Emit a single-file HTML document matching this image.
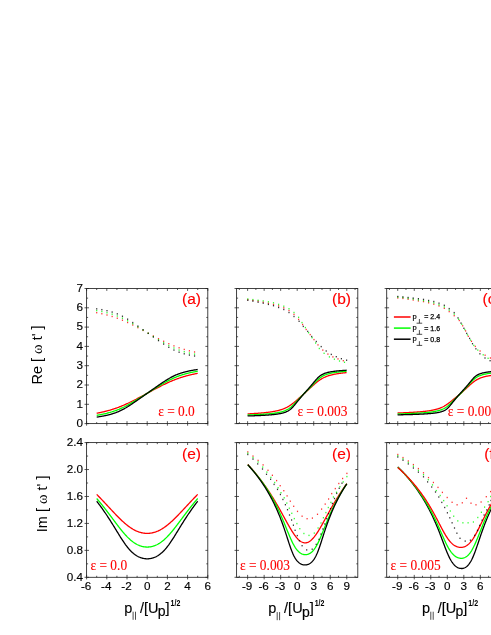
<!DOCTYPE html>
<html><head><meta charset="utf-8"><title>figure</title>
<style>
html,body{margin:0;padding:0;background:#fff;}
body{width:491px;height:635px;overflow:hidden;font-family:"Liberation Sans",sans-serif;}
svg text{white-space:pre;}
svg{will-change:transform;}
</style></head><body>
<svg width="491" height="635" viewBox="0 0 491 635" style="display:block">
<rect x="0" y="0" width="491" height="635" fill="#ffffff"/>
<g id="data">
<path d="M96.7 413.24 L97.2 413.14 L97.71 413.05 L98.22 412.95 L98.72 412.85 L99.22 412.74 L99.73 412.64 L100.23 412.54 L100.74 412.43 L101.25 412.32 L101.75 412.21 L102.25 412.1 L102.76 411.98 L103.27 411.86 L103.77 411.75 L104.27 411.62 L104.78 411.5 L105.28 411.38 L105.79 411.25 L106.3 411.12 L106.8 410.99 L107.3 410.86 L107.81 410.72 L108.31 410.58 L108.82 410.44 L109.32 410.3 L109.83 410.16 L110.33 410.01 L110.84 409.86 L111.34 409.71 L111.85 409.55 L112.35 409.39 L112.86 409.23 L113.36 409.07 L113.87 408.91 L114.38 408.74 L114.88 408.57 L115.38 408.4 L115.89 408.22 L116.39 408.04 L116.9 407.86 L117.41 407.68 L117.91 407.49 L118.41 407.31 L118.92 407.11 L119.42 406.92 L119.93 406.72 L120.44 406.52 L120.94 406.32 L121.44 406.12 L121.95 405.91 L122.45 405.7 L122.96 405.49 L123.47 405.27 L123.97 405.06 L124.47 404.84 L124.98 404.61 L125.48 404.39 L125.99 404.16 L126.5 403.93 L127 403.7 L127.5 403.47 L128.01 403.23 L128.51 403 L129.02 402.76 L129.53 402.52 L130.03 402.27 L130.53 402.03 L131.04 401.78 L131.54 401.53 L132.05 401.28 L132.56 401.03 L133.06 400.78 L133.56 400.52 L134.07 400.26 L134.57 400.01 L135.08 399.75 L135.58 399.49 L136.09 399.23 L136.59 398.96 L137.1 398.7 L137.6 398.43 L138.11 398.17 L138.62 397.9 L139.12 397.63 L139.62 397.37 L140.13 397.1 L140.63 396.83 L141.14 396.56 L141.65 396.29 L142.15 396.02 L142.66 395.74 L143.16 395.47 L143.66 395.2 L144.17 394.93 L144.67 394.65 L145.18 394.38 L145.69 394.11 L146.19 393.83 L146.69 393.56 L147.2 393.28 L147.71 393.01 L148.21 392.74 L148.72 392.46 L149.22 392.19 L149.72 391.91 L150.23 391.64 L150.74 391.37 L151.24 391.1 L151.75 390.82 L152.25 390.55 L152.75 390.28 L153.26 390.01 L153.76 389.74 L154.27 389.47 L154.77 389.2 L155.28 388.93 L155.78 388.67 L156.29 388.4 L156.8 388.13 L157.3 387.87 L157.81 387.6 L158.31 387.34 L158.81 387.08 L159.32 386.82 L159.82 386.56 L160.33 386.3 L160.83 386.05 L161.34 385.79 L161.84 385.54 L162.35 385.29 L162.86 385.04 L163.36 384.79 L163.87 384.54 L164.37 384.29 L164.88 384.05 L165.38 383.81 L165.88 383.57 L166.39 383.33 L166.89 383.1 L167.4 382.86 L167.91 382.63 L168.41 382.4 L168.92 382.18 L169.42 381.95 L169.93 381.73 L170.43 381.51 L170.94 381.29 L171.44 381.08 L171.94 380.87 L172.45 380.66 L172.96 380.45 L173.46 380.25 L173.97 380.04 L174.47 379.84 L174.97 379.65 L175.48 379.45 L175.99 379.26 L176.49 379.07 L177 378.89 L177.5 378.7 L178 378.52 L178.51 378.35 L179.01 378.17 L179.52 378 L180.03 377.83 L180.53 377.66 L181.03 377.49 L181.54 377.33 L182.05 377.17 L182.55 377.02 L183.06 376.86 L183.56 376.71 L184.06 376.56 L184.57 376.41 L185.07 376.27 L185.58 376.12 L186.08 375.98 L186.59 375.85 L187.09 375.71 L187.6 375.58 L188.11 375.45 L188.61 375.32 L189.12 375.19 L189.62 375.07 L190.12 374.94 L190.63 374.82 L191.13 374.7 L191.64 374.59 L192.15 374.47 L192.65 374.36 L193.16 374.25 L193.66 374.14 L194.16 374.03 L194.67 373.93 L195.18 373.82 L195.68 373.72 L196.19 373.62 L196.69 373.52 L197.19 373.42 L197.7 373.33" fill="none" stroke="#ff0000" stroke-width="1.3" stroke-linejoin="round"/>
<path d="M96.7 415.33 L97.2 415.25 L97.71 415.16 L98.22 415.07 L98.72 414.98 L99.22 414.89 L99.73 414.8 L100.23 414.7 L100.74 414.6 L101.25 414.5 L101.75 414.4 L102.25 414.3 L102.76 414.19 L103.27 414.08 L103.77 413.97 L104.27 413.86 L104.78 413.75 L105.28 413.63 L105.79 413.51 L106.3 413.39 L106.8 413.26 L107.3 413.13 L107.81 413 L108.31 412.87 L108.82 412.73 L109.32 412.59 L109.83 412.45 L110.33 412.3 L110.84 412.15 L111.34 412 L111.85 411.85 L112.35 411.69 L112.86 411.52 L113.36 411.36 L113.87 411.19 L114.38 411.01 L114.88 410.84 L115.38 410.66 L115.89 410.47 L116.39 410.28 L116.9 410.09 L117.41 409.9 L117.91 409.7 L118.41 409.49 L118.92 409.29 L119.42 409.07 L119.93 408.86 L120.44 408.64 L120.94 408.42 L121.44 408.19 L121.95 407.96 L122.45 407.72 L122.96 407.48 L123.47 407.24 L123.97 406.99 L124.47 406.74 L124.98 406.49 L125.48 406.23 L125.99 405.97 L126.5 405.71 L127 405.44 L127.5 405.17 L128.01 404.9 L128.51 404.62 L129.02 404.34 L129.53 404.06 L130.03 403.78 L130.53 403.49 L131.04 403.2 L131.54 402.91 L132.05 402.62 L132.56 402.32 L133.06 402.03 L133.56 401.73 L134.07 401.43 L134.57 401.12 L135.08 400.82 L135.58 400.52 L136.09 400.21 L136.59 399.9 L137.1 399.59 L137.6 399.28 L138.11 398.97 L138.62 398.66 L139.12 398.35 L139.62 398.03 L140.13 397.72 L140.63 397.41 L141.14 397.09 L141.65 396.78 L142.15 396.46 L142.66 396.14 L143.16 395.83 L143.66 395.51 L144.17 395.19 L144.67 394.87 L145.18 394.56 L145.69 394.24 L146.19 393.92 L146.69 393.6 L147.2 393.28 L147.71 392.97 L148.21 392.65 L148.72 392.33 L149.22 392.01 L149.72 391.69 L150.23 391.38 L150.74 391.06 L151.24 390.74 L151.75 390.42 L152.25 390.11 L152.75 389.79 L153.26 389.48 L153.76 389.16 L154.27 388.85 L154.77 388.53 L155.28 388.22 L155.78 387.91 L156.29 387.6 L156.8 387.28 L157.3 386.97 L157.81 386.67 L158.31 386.36 L158.81 386.05 L159.32 385.75 L159.82 385.44 L160.33 385.14 L160.83 384.84 L161.34 384.54 L161.84 384.24 L162.35 383.95 L162.86 383.66 L163.36 383.36 L163.87 383.08 L164.37 382.79 L164.88 382.51 L165.38 382.22 L165.88 381.95 L166.39 381.67 L166.89 381.4 L167.4 381.13 L167.91 380.86 L168.41 380.6 L168.92 380.33 L169.42 380.08 L169.93 379.82 L170.43 379.57 L170.94 379.33 L171.44 379.08 L171.94 378.85 L172.45 378.61 L172.96 378.38 L173.46 378.15 L173.97 377.93 L174.47 377.71 L174.97 377.49 L175.48 377.28 L175.99 377.07 L176.49 376.87 L177 376.67 L177.5 376.47 L178 376.28 L178.51 376.09 L179.01 375.91 L179.52 375.73 L180.03 375.55 L180.53 375.38 L181.03 375.21 L181.54 375.04 L182.05 374.88 L182.55 374.72 L183.06 374.57 L183.56 374.41 L184.06 374.27 L184.57 374.12 L185.07 373.98 L185.58 373.84 L186.08 373.7 L186.59 373.57 L187.09 373.44 L187.6 373.31 L188.11 373.18 L188.61 373.06 L189.12 372.94 L189.62 372.82 L190.12 372.71 L190.63 372.59 L191.13 372.48 L191.64 372.38 L192.15 372.27 L192.65 372.17 L193.16 372.06 L193.66 371.96 L194.16 371.87 L194.67 371.77 L195.18 371.68 L195.68 371.59 L196.19 371.5 L196.69 371.41 L197.19 371.32 L197.7 371.24" fill="none" stroke="#00ff00" stroke-width="1.3" stroke-linejoin="round"/>
<path d="M96.7 417.1 L97.2 417.03 L97.71 416.95 L98.22 416.88 L98.72 416.8 L99.22 416.72 L99.73 416.64 L100.23 416.56 L100.74 416.47 L101.25 416.39 L101.75 416.3 L102.25 416.21 L102.76 416.12 L103.27 416.02 L103.77 415.92 L104.27 415.82 L104.78 415.72 L105.28 415.62 L105.79 415.51 L106.3 415.4 L106.8 415.28 L107.3 415.17 L107.81 415.05 L108.31 414.92 L108.82 414.8 L109.32 414.67 L109.83 414.53 L110.33 414.4 L110.84 414.26 L111.34 414.11 L111.85 413.96 L112.35 413.81 L112.86 413.65 L113.36 413.49 L113.87 413.32 L114.38 413.15 L114.88 412.98 L115.38 412.79 L115.89 412.61 L116.39 412.42 L116.9 412.22 L117.41 412.02 L117.91 411.81 L118.41 411.6 L118.92 411.38 L119.42 411.15 L119.93 410.92 L120.44 410.69 L120.94 410.44 L121.44 410.2 L121.95 409.94 L122.45 409.68 L122.96 409.42 L123.47 409.15 L123.97 408.87 L124.47 408.59 L124.98 408.3 L125.48 408.01 L125.99 407.72 L126.5 407.41 L127 407.11 L127.5 406.8 L128.01 406.49 L128.51 406.17 L129.02 405.85 L129.53 405.52 L130.03 405.19 L130.53 404.86 L131.04 404.53 L131.54 404.19 L132.05 403.85 L132.56 403.51 L133.06 403.17 L133.56 402.83 L134.07 402.48 L134.57 402.14 L135.08 401.79 L135.58 401.44 L136.09 401.09 L136.59 400.74 L137.1 400.39 L137.6 400.03 L138.11 399.68 L138.62 399.33 L139.12 398.97 L139.62 398.62 L140.13 398.26 L140.63 397.91 L141.14 397.55 L141.65 397.2 L142.15 396.84 L142.66 396.49 L143.16 396.13 L143.66 395.77 L144.17 395.42 L144.67 395.06 L145.18 394.71 L145.69 394.35 L146.19 394 L146.69 393.64 L147.2 393.28 L147.71 392.93 L148.21 392.57 L148.72 392.22 L149.22 391.86 L149.72 391.5 L150.23 391.15 L150.74 390.79 L151.24 390.44 L151.75 390.08 L152.25 389.73 L152.75 389.37 L153.26 389.01 L153.76 388.66 L154.27 388.3 L154.77 387.95 L155.28 387.6 L155.78 387.24 L156.29 386.89 L156.8 386.53 L157.3 386.18 L157.81 385.83 L158.31 385.48 L158.81 385.13 L159.32 384.78 L159.82 384.43 L160.33 384.08 L160.83 383.74 L161.34 383.39 L161.84 383.05 L162.35 382.71 L162.86 382.37 L163.36 382.04 L163.87 381.7 L164.37 381.37 L164.88 381.05 L165.38 380.72 L165.88 380.4 L166.39 380.08 L166.89 379.77 L167.4 379.46 L167.91 379.15 L168.41 378.85 L168.92 378.56 L169.42 378.26 L169.93 377.98 L170.43 377.7 L170.94 377.42 L171.44 377.15 L171.94 376.88 L172.45 376.63 L172.96 376.37 L173.46 376.12 L173.97 375.88 L174.47 375.65 L174.97 375.42 L175.48 375.19 L175.99 374.97 L176.49 374.76 L177 374.55 L177.5 374.35 L178 374.15 L178.51 373.96 L179.01 373.77 L179.52 373.59 L180.03 373.42 L180.53 373.24 L181.03 373.08 L181.54 372.92 L182.05 372.76 L182.55 372.6 L183.06 372.46 L183.56 372.31 L184.06 372.17 L184.57 372.03 L185.07 371.9 L185.58 371.77 L186.08 371.64 L186.59 371.52 L187.09 371.4 L187.6 371.28 L188.11 371.17 L188.61 371.06 L189.12 370.95 L189.62 370.85 L190.12 370.74 L190.63 370.64 L191.13 370.55 L191.64 370.45 L192.15 370.36 L192.65 370.27 L193.16 370.18 L193.66 370.09 L194.16 370.01 L194.67 369.93 L195.18 369.85 L195.68 369.77 L196.19 369.69 L196.69 369.62 L197.19 369.54 L197.7 369.47" fill="none" stroke="#000000" stroke-width="1.3" stroke-linejoin="round"/>
<rect x="96.1" y="312" width="1.2" height="1.4" fill="#ff0000" fill-opacity="0.8"/>
<rect x="101.25" y="313.05" width="1.2" height="1.4" fill="#ff0000" fill-opacity="0.8"/>
<rect x="106.4" y="314.3" width="1.2" height="1.4" fill="#ff0000" fill-opacity="0.8"/>
<rect x="111.55" y="315.78" width="1.2" height="1.4" fill="#ff0000" fill-opacity="0.8"/>
<rect x="116.7" y="317.52" width="1.2" height="1.4" fill="#ff0000" fill-opacity="0.8"/>
<rect x="121.85" y="319.53" width="1.2" height="1.4" fill="#ff0000" fill-opacity="0.8"/>
<rect x="127" y="321.81" width="1.2" height="1.4" fill="#ff0000" fill-opacity="0.8"/>
<rect x="132.15" y="324.3" width="1.2" height="1.4" fill="#ff0000" fill-opacity="0.8"/>
<rect x="137.3" y="326.96" width="1.2" height="1.4" fill="#ff0000" fill-opacity="0.8"/>
<rect x="142.45" y="329.7" width="1.2" height="1.4" fill="#ff0000" fill-opacity="0.8"/>
<rect x="147.6" y="332.49" width="1.2" height="1.4" fill="#ff0000" fill-opacity="0.8"/>
<rect x="152.75" y="335.27" width="1.2" height="1.4" fill="#ff0000" fill-opacity="0.8"/>
<rect x="157.9" y="337.99" width="1.2" height="1.4" fill="#ff0000" fill-opacity="0.8"/>
<rect x="163.05" y="340.59" width="1.2" height="1.4" fill="#ff0000" fill-opacity="0.8"/>
<rect x="168.2" y="343.01" width="1.2" height="1.4" fill="#ff0000" fill-opacity="0.8"/>
<rect x="173.35" y="345.18" width="1.2" height="1.4" fill="#ff0000" fill-opacity="0.8"/>
<rect x="178.5" y="347.09" width="1.2" height="1.4" fill="#ff0000" fill-opacity="0.8"/>
<rect x="183.65" y="348.73" width="1.2" height="1.4" fill="#ff0000" fill-opacity="0.8"/>
<rect x="188.8" y="350.12" width="1.2" height="1.4" fill="#ff0000" fill-opacity="0.8"/>
<rect x="193.95" y="351.28" width="1.2" height="1.4" fill="#ff0000" fill-opacity="0.8"/>
<rect x="96.1" y="309.9" width="1.2" height="1.4" fill="#00ff00" fill-opacity="0.8"/>
<rect x="101.25" y="310.85" width="1.2" height="1.4" fill="#00ff00" fill-opacity="0.8"/>
<rect x="106.4" y="312.03" width="1.2" height="1.4" fill="#00ff00" fill-opacity="0.8"/>
<rect x="111.55" y="313.48" width="1.2" height="1.4" fill="#00ff00" fill-opacity="0.8"/>
<rect x="116.7" y="315.3" width="1.2" height="1.4" fill="#00ff00" fill-opacity="0.8"/>
<rect x="121.85" y="317.51" width="1.2" height="1.4" fill="#00ff00" fill-opacity="0.8"/>
<rect x="127" y="320.11" width="1.2" height="1.4" fill="#00ff00" fill-opacity="0.8"/>
<rect x="132.15" y="323.03" width="1.2" height="1.4" fill="#00ff00" fill-opacity="0.8"/>
<rect x="137.3" y="326.13" width="1.2" height="1.4" fill="#00ff00" fill-opacity="0.8"/>
<rect x="142.45" y="329.34" width="1.2" height="1.4" fill="#00ff00" fill-opacity="0.8"/>
<rect x="147.6" y="332.58" width="1.2" height="1.4" fill="#00ff00" fill-opacity="0.8"/>
<rect x="152.75" y="335.81" width="1.2" height="1.4" fill="#00ff00" fill-opacity="0.8"/>
<rect x="157.9" y="338.99" width="1.2" height="1.4" fill="#00ff00" fill-opacity="0.8"/>
<rect x="163.05" y="342.04" width="1.2" height="1.4" fill="#00ff00" fill-opacity="0.8"/>
<rect x="168.2" y="344.84" width="1.2" height="1.4" fill="#00ff00" fill-opacity="0.8"/>
<rect x="173.35" y="347.3" width="1.2" height="1.4" fill="#00ff00" fill-opacity="0.8"/>
<rect x="178.5" y="349.36" width="1.2" height="1.4" fill="#00ff00" fill-opacity="0.8"/>
<rect x="183.65" y="351.02" width="1.2" height="1.4" fill="#00ff00" fill-opacity="0.8"/>
<rect x="188.8" y="352.36" width="1.2" height="1.4" fill="#00ff00" fill-opacity="0.8"/>
<rect x="193.95" y="353.44" width="1.2" height="1.4" fill="#00ff00" fill-opacity="0.8"/>
<rect x="96.1" y="308.14" width="1.2" height="1.4" fill="#000000" fill-opacity="0.8"/>
<rect x="101.25" y="308.95" width="1.2" height="1.4" fill="#000000" fill-opacity="0.8"/>
<rect x="106.4" y="310" width="1.2" height="1.4" fill="#000000" fill-opacity="0.8"/>
<rect x="111.55" y="311.36" width="1.2" height="1.4" fill="#000000" fill-opacity="0.8"/>
<rect x="116.7" y="313.17" width="1.2" height="1.4" fill="#000000" fill-opacity="0.8"/>
<rect x="121.85" y="315.55" width="1.2" height="1.4" fill="#000000" fill-opacity="0.8"/>
<rect x="127" y="318.49" width="1.2" height="1.4" fill="#000000" fill-opacity="0.8"/>
<rect x="132.15" y="321.85" width="1.2" height="1.4" fill="#000000" fill-opacity="0.8"/>
<rect x="137.3" y="325.41" width="1.2" height="1.4" fill="#000000" fill-opacity="0.8"/>
<rect x="142.45" y="329.03" width="1.2" height="1.4" fill="#000000" fill-opacity="0.8"/>
<rect x="147.6" y="332.66" width="1.2" height="1.4" fill="#000000" fill-opacity="0.8"/>
<rect x="152.75" y="336.28" width="1.2" height="1.4" fill="#000000" fill-opacity="0.8"/>
<rect x="157.9" y="339.89" width="1.2" height="1.4" fill="#000000" fill-opacity="0.8"/>
<rect x="163.05" y="343.39" width="1.2" height="1.4" fill="#000000" fill-opacity="0.8"/>
<rect x="168.2" y="346.61" width="1.2" height="1.4" fill="#000000" fill-opacity="0.8"/>
<rect x="173.35" y="349.35" width="1.2" height="1.4" fill="#000000" fill-opacity="0.8"/>
<rect x="178.5" y="351.49" width="1.2" height="1.4" fill="#000000" fill-opacity="0.8"/>
<rect x="183.65" y="353.12" width="1.2" height="1.4" fill="#000000" fill-opacity="0.8"/>
<rect x="188.8" y="354.34" width="1.2" height="1.4" fill="#000000" fill-opacity="0.8"/>
<rect x="193.95" y="355.29" width="1.2" height="1.4" fill="#000000" fill-opacity="0.8"/>
<path d="M96.7 494.37 L97.2 494.88 L97.71 495.4 L98.22 495.92 L98.72 496.44 L99.22 496.96 L99.73 497.49 L100.23 498.02 L100.74 498.54 L101.25 499.08 L101.75 499.61 L102.25 500.14 L102.76 500.67 L103.27 501.21 L103.77 501.75 L104.27 502.29 L104.78 502.83 L105.28 503.37 L105.79 503.91 L106.3 504.45 L106.8 504.99 L107.3 505.53 L107.81 506.08 L108.31 506.62 L108.82 507.16 L109.32 507.71 L109.83 508.25 L110.33 508.79 L110.84 509.34 L111.34 509.88 L111.85 510.42 L112.35 510.96 L112.86 511.5 L113.36 512.03 L113.87 512.57 L114.38 513.1 L114.88 513.63 L115.38 514.16 L115.89 514.68 L116.39 515.2 L116.9 515.72 L117.41 516.24 L117.91 516.75 L118.41 517.26 L118.92 517.77 L119.42 518.27 L119.93 518.76 L120.44 519.25 L120.94 519.74 L121.44 520.22 L121.95 520.69 L122.45 521.16 L122.96 521.62 L123.47 522.08 L123.97 522.53 L124.47 522.97 L124.98 523.41 L125.48 523.83 L125.99 524.26 L126.5 524.67 L127 525.07 L127.5 525.47 L128.01 525.86 L128.51 526.24 L129.02 526.61 L129.53 526.97 L130.03 527.33 L130.53 527.67 L131.04 528.01 L131.54 528.33 L132.05 528.65 L132.56 528.96 L133.06 529.26 L133.56 529.54 L134.07 529.82 L134.57 530.09 L135.08 530.34 L135.58 530.59 L136.09 530.83 L136.59 531.06 L137.1 531.27 L137.6 531.48 L138.11 531.67 L138.62 531.86 L139.12 532.03 L139.62 532.2 L140.13 532.35 L140.63 532.49 L141.14 532.63 L141.65 532.75 L142.15 532.86 L142.66 532.96 L143.16 533.05 L143.66 533.13 L144.17 533.2 L144.67 533.26 L145.18 533.31 L145.69 533.34 L146.19 533.37 L146.69 533.39 L147.2 533.39 L147.71 533.39 L148.21 533.37 L148.72 533.34 L149.22 533.31 L149.72 533.26 L150.23 533.2 L150.74 533.13 L151.24 533.05 L151.75 532.96 L152.25 532.86 L152.75 532.75 L153.26 532.63 L153.76 532.49 L154.27 532.35 L154.77 532.2 L155.28 532.03 L155.78 531.86 L156.29 531.67 L156.8 531.48 L157.3 531.27 L157.81 531.06 L158.31 530.83 L158.81 530.59 L159.32 530.34 L159.82 530.09 L160.33 529.82 L160.83 529.54 L161.34 529.26 L161.84 528.96 L162.35 528.65 L162.86 528.33 L163.36 528.01 L163.87 527.67 L164.37 527.33 L164.88 526.97 L165.38 526.61 L165.88 526.24 L166.39 525.86 L166.89 525.47 L167.4 525.07 L167.91 524.67 L168.41 524.26 L168.92 523.83 L169.42 523.41 L169.93 522.97 L170.43 522.53 L170.94 522.08 L171.44 521.62 L171.94 521.16 L172.45 520.69 L172.96 520.22 L173.46 519.74 L173.97 519.25 L174.47 518.76 L174.97 518.27 L175.48 517.77 L175.99 517.26 L176.49 516.75 L177 516.24 L177.5 515.72 L178 515.2 L178.51 514.68 L179.01 514.16 L179.52 513.63 L180.03 513.1 L180.53 512.57 L181.03 512.03 L181.54 511.5 L182.05 510.96 L182.55 510.42 L183.06 509.88 L183.56 509.34 L184.06 508.79 L184.57 508.25 L185.07 507.71 L185.58 507.16 L186.08 506.62 L186.59 506.08 L187.09 505.53 L187.6 504.99 L188.11 504.45 L188.61 503.91 L189.12 503.37 L189.62 502.83 L190.12 502.29 L190.63 501.75 L191.13 501.21 L191.64 500.67 L192.15 500.14 L192.65 499.61 L193.16 499.08 L193.66 498.54 L194.16 498.02 L194.67 497.49 L195.18 496.96 L195.68 496.44 L196.19 495.92 L196.69 495.4 L197.19 494.88 L197.7 494.37" fill="none" stroke="#ff0000" stroke-width="1.3" stroke-linejoin="round"/>
<path d="M96.7 498.52 L97.2 499.11 L97.71 499.71 L98.22 500.3 L98.72 500.91 L99.22 501.51 L99.73 502.12 L100.23 502.73 L100.74 503.35 L101.25 503.97 L101.75 504.59 L102.25 505.22 L102.76 505.85 L103.27 506.48 L103.77 507.12 L104.27 507.76 L104.78 508.4 L105.28 509.05 L105.79 509.7 L106.3 510.35 L106.8 511.01 L107.3 511.67 L107.81 512.33 L108.31 512.99 L108.82 513.66 L109.32 514.32 L109.83 514.99 L110.33 515.66 L110.84 516.34 L111.34 517.01 L111.85 517.69 L112.35 518.36 L112.86 519.04 L113.36 519.71 L113.87 520.39 L114.38 521.06 L114.88 521.74 L115.38 522.41 L115.89 523.09 L116.39 523.76 L116.9 524.42 L117.41 525.09 L117.91 525.75 L118.41 526.41 L118.92 527.06 L119.42 527.71 L119.93 528.36 L120.44 529 L120.94 529.63 L121.44 530.26 L121.95 530.88 L122.45 531.49 L122.96 532.09 L123.47 532.69 L123.97 533.28 L124.47 533.86 L124.98 534.43 L125.48 534.99 L125.99 535.54 L126.5 536.07 L127 536.6 L127.5 537.12 L128.01 537.62 L128.51 538.11 L129.02 538.59 L129.53 539.06 L130.03 539.51 L130.53 539.96 L131.04 540.39 L131.54 540.8 L132.05 541.2 L132.56 541.59 L133.06 541.97 L133.56 542.33 L134.07 542.68 L134.57 543.01 L135.08 543.33 L135.58 543.64 L136.09 543.93 L136.59 544.21 L137.1 544.48 L137.6 544.73 L138.11 544.97 L138.62 545.2 L139.12 545.41 L139.62 545.61 L140.13 545.8 L140.63 545.97 L141.14 546.13 L141.65 546.28 L142.15 546.41 L142.66 546.53 L143.16 546.64 L143.66 546.74 L144.17 546.82 L144.67 546.89 L145.18 546.95 L145.69 546.99 L146.19 547.02 L146.69 547.04 L147.2 547.05 L147.71 547.04 L148.21 547.02 L148.72 546.99 L149.22 546.95 L149.72 546.89 L150.23 546.82 L150.74 546.74 L151.24 546.64 L151.75 546.53 L152.25 546.41 L152.75 546.28 L153.26 546.13 L153.76 545.97 L154.27 545.8 L154.77 545.61 L155.28 545.41 L155.78 545.2 L156.29 544.97 L156.8 544.73 L157.3 544.48 L157.81 544.21 L158.31 543.93 L158.81 543.64 L159.32 543.33 L159.82 543.01 L160.33 542.68 L160.83 542.33 L161.34 541.97 L161.84 541.59 L162.35 541.2 L162.86 540.8 L163.36 540.39 L163.87 539.96 L164.37 539.51 L164.88 539.06 L165.38 538.59 L165.88 538.11 L166.39 537.62 L166.89 537.12 L167.4 536.6 L167.91 536.07 L168.41 535.54 L168.92 534.99 L169.42 534.43 L169.93 533.86 L170.43 533.28 L170.94 532.69 L171.44 532.09 L171.94 531.49 L172.45 530.88 L172.96 530.26 L173.46 529.63 L173.97 529 L174.47 528.36 L174.97 527.71 L175.48 527.06 L175.99 526.41 L176.49 525.75 L177 525.09 L177.5 524.42 L178 523.76 L178.51 523.09 L179.01 522.41 L179.52 521.74 L180.03 521.06 L180.53 520.39 L181.03 519.71 L181.54 519.04 L182.05 518.36 L182.55 517.69 L183.06 517.01 L183.56 516.34 L184.06 515.66 L184.57 514.99 L185.07 514.32 L185.58 513.66 L186.08 512.99 L186.59 512.33 L187.09 511.67 L187.6 511.01 L188.11 510.35 L188.61 509.7 L189.12 509.05 L189.62 508.4 L190.12 507.76 L190.63 507.12 L191.13 506.48 L191.64 505.85 L192.15 505.22 L192.65 504.59 L193.16 503.97 L193.66 503.35 L194.16 502.73 L194.67 502.12 L195.18 501.51 L195.68 500.91 L196.19 500.3 L196.69 499.71 L197.19 499.11 L197.7 498.52" fill="none" stroke="#00ff00" stroke-width="1.3" stroke-linejoin="round"/>
<path d="M96.7 501.24 L97.2 501.89 L97.71 502.54 L98.22 503.2 L98.72 503.86 L99.22 504.53 L99.73 505.21 L100.23 505.89 L100.74 506.57 L101.25 507.26 L101.75 507.96 L102.25 508.66 L102.76 509.37 L103.27 510.09 L103.77 510.81 L104.27 511.54 L104.78 512.27 L105.28 513.01 L105.79 513.75 L106.3 514.5 L106.8 515.25 L107.3 516.01 L107.81 516.78 L108.31 517.55 L108.82 518.33 L109.32 519.11 L109.83 519.9 L110.33 520.69 L110.84 521.49 L111.34 522.29 L111.85 523.09 L112.35 523.9 L112.86 524.72 L113.36 525.53 L113.87 526.35 L114.38 527.18 L114.88 528 L115.38 528.82 L115.89 529.65 L116.39 530.48 L116.9 531.31 L117.41 532.13 L117.91 532.96 L118.41 533.78 L118.92 534.6 L119.42 535.41 L119.93 536.23 L120.44 537.03 L120.94 537.83 L121.44 538.62 L121.95 539.41 L122.45 540.18 L122.96 540.95 L123.47 541.7 L123.97 542.44 L124.47 543.18 L124.98 543.89 L125.48 544.6 L125.99 545.28 L126.5 545.96 L127 546.61 L127.5 547.25 L128.01 547.88 L128.51 548.48 L129.02 549.07 L129.53 549.64 L130.03 550.19 L130.53 550.73 L131.04 551.24 L131.54 551.74 L132.05 552.22 L132.56 552.68 L133.06 553.12 L133.56 553.54 L134.07 553.94 L134.57 554.33 L135.08 554.7 L135.58 555.05 L136.09 555.38 L136.59 555.7 L137.1 556 L137.6 556.28 L138.11 556.55 L138.62 556.8 L139.12 557.03 L139.62 557.25 L140.13 557.46 L140.63 557.64 L141.14 557.82 L141.65 557.98 L142.15 558.12 L142.66 558.25 L143.16 558.37 L143.66 558.47 L144.17 558.56 L144.67 558.63 L145.18 558.69 L145.69 558.74 L146.19 558.78 L146.69 558.8 L147.2 558.8 L147.71 558.8 L148.21 558.78 L148.72 558.74 L149.22 558.69 L149.72 558.63 L150.23 558.56 L150.74 558.47 L151.24 558.37 L151.75 558.25 L152.25 558.12 L152.75 557.98 L153.26 557.82 L153.76 557.64 L154.27 557.46 L154.77 557.25 L155.28 557.03 L155.78 556.8 L156.29 556.55 L156.8 556.28 L157.3 556 L157.81 555.7 L158.31 555.38 L158.81 555.05 L159.32 554.7 L159.82 554.33 L160.33 553.94 L160.83 553.54 L161.34 553.12 L161.84 552.68 L162.35 552.22 L162.86 551.74 L163.36 551.24 L163.87 550.73 L164.37 550.19 L164.88 549.64 L165.38 549.07 L165.88 548.48 L166.39 547.88 L166.89 547.25 L167.4 546.61 L167.91 545.96 L168.41 545.28 L168.92 544.6 L169.42 543.89 L169.93 543.18 L170.43 542.44 L170.94 541.7 L171.44 540.95 L171.94 540.18 L172.45 539.41 L172.96 538.62 L173.46 537.83 L173.97 537.03 L174.47 536.23 L174.97 535.41 L175.48 534.6 L175.99 533.78 L176.49 532.96 L177 532.13 L177.5 531.31 L178 530.48 L178.51 529.65 L179.01 528.82 L179.52 528 L180.03 527.18 L180.53 526.35 L181.03 525.53 L181.54 524.72 L182.05 523.9 L182.55 523.09 L183.06 522.29 L183.56 521.49 L184.06 520.69 L184.57 519.9 L185.07 519.11 L185.58 518.33 L186.08 517.55 L186.59 516.78 L187.09 516.01 L187.6 515.25 L188.11 514.5 L188.61 513.75 L189.12 513.01 L189.62 512.27 L190.12 511.54 L190.63 510.81 L191.13 510.09 L191.64 509.37 L192.15 508.66 L192.65 507.96 L193.16 507.26 L193.66 506.57 L194.16 505.89 L194.67 505.21 L195.18 504.53 L195.68 503.86 L196.19 503.2 L196.69 502.54 L197.19 501.89 L197.7 501.24" fill="none" stroke="#000000" stroke-width="1.3" stroke-linejoin="round"/>
<path d="M247.6 413.88 L248.1 413.85 L248.6 413.83 L249.1 413.8 L249.6 413.78 L250.1 413.75 L250.6 413.72 L251.1 413.7 L251.6 413.67 L252.1 413.64 L252.6 413.61 L253.1 413.58 L253.6 413.55 L254.1 413.52 L254.6 413.49 L255.1 413.45 L255.6 413.42 L256.1 413.39 L256.6 413.35 L257.1 413.32 L257.6 413.28 L258.1 413.24 L258.6 413.21 L259.1 413.17 L259.6 413.13 L260.1 413.09 L260.6 413.05 L261.1 413 L261.6 412.96 L262.1 412.92 L262.6 412.87 L263.1 412.82 L263.6 412.78 L264.1 412.73 L264.6 412.68 L265.1 412.62 L265.6 412.57 L266.1 412.52 L266.6 412.46 L267.1 412.4 L267.6 412.34 L268.1 412.28 L268.6 412.22 L269.1 412.15 L269.6 412.09 L270.1 412.02 L270.6 411.94 L271.1 411.87 L271.6 411.8 L272.1 411.72 L272.6 411.64 L273.1 411.55 L273.6 411.47 L274.1 411.38 L274.6 411.28 L275.1 411.19 L275.6 411.09 L276.1 410.98 L276.6 410.87 L277.1 410.76 L277.6 410.65 L278.1 410.53 L278.6 410.4 L279.1 410.27 L279.6 410.13 L280.1 409.99 L280.6 409.85 L281.1 409.69 L281.6 409.53 L282.1 409.36 L282.6 409.19 L283.1 409 L283.6 408.81 L284.1 408.61 L284.6 408.4 L285.1 408.19 L285.6 407.96 L286.1 407.72 L286.6 407.47 L287.1 407.21 L287.6 406.94 L288.1 406.66 L288.6 406.36 L289.1 406.06 L289.6 405.74 L290.1 405.41 L290.6 405.07 L291.1 404.72 L291.6 404.36 L292.1 403.99 L292.6 403.61 L293.1 403.22 L293.6 402.82 L294.1 402.42 L294.6 402 L295.1 401.59 L295.6 401.16 L296.1 400.74 L296.6 400.3 L297.1 399.87 L297.6 399.43 L298.1 398.99 L298.6 398.55 L299.1 398.1 L299.6 397.65 L300.1 397.21 L300.6 396.76 L301.1 396.31 L301.6 395.86 L302.1 395.41 L302.6 394.96 L303.1 394.51 L303.6 394.06 L304.1 393.61 L304.6 393.16 L305.1 392.7 L305.6 392.24 L306.1 391.78 L306.6 391.32 L307.1 390.86 L307.6 390.39 L308.1 389.93 L308.6 389.47 L309.1 389.01 L309.6 388.55 L310.1 388.09 L310.6 387.63 L311.1 387.18 L311.6 386.72 L312.1 386.27 L312.6 385.82 L313.1 385.37 L313.6 384.92 L314.1 384.48 L314.6 384.05 L315.1 383.62 L315.6 383.19 L316.1 382.78 L316.6 382.37 L317.1 381.96 L317.6 381.57 L318.1 381.19 L318.6 380.82 L319.1 380.46 L319.6 380.11 L320.1 379.77 L320.6 379.44 L321.1 379.13 L321.6 378.83 L322.1 378.54 L322.6 378.26 L323.1 377.99 L323.6 377.74 L324.1 377.49 L324.6 377.26 L325.1 377.04 L325.6 376.82 L326.1 376.62 L326.6 376.43 L327.1 376.24 L327.6 376.06 L328.1 375.89 L328.6 375.73 L329.1 375.57 L329.6 375.42 L330.1 375.28 L330.6 375.14 L331.1 375.01 L331.6 374.89 L332.1 374.76 L332.6 374.65 L333.1 374.54 L333.6 374.43 L334.1 374.32 L334.6 374.22 L335.1 374.13 L335.6 374.03 L336.1 373.94 L336.6 373.86 L337.1 373.77 L337.6 373.69 L338.1 373.61 L338.6 373.54 L339.1 373.46 L339.6 373.39 L340.1 373.32 L340.6 373.26 L341.1 373.19 L341.6 373.13 L342.1 373.07 L342.6 373.01 L343.1 372.95 L343.6 372.89 L344.1 372.84 L344.6 372.79 L345.1 372.73 L345.6 372.68 L346.1 372.63 L346.6 372.59" fill="none" stroke="#ff0000" stroke-width="1.3" stroke-linejoin="round"/>
<path d="M247.6 415 L248.1 414.99 L248.6 414.97 L249.1 414.95 L249.6 414.93 L250.1 414.92 L250.6 414.9 L251.1 414.88 L251.6 414.86 L252.1 414.84 L252.6 414.82 L253.1 414.8 L253.6 414.78 L254.1 414.76 L254.6 414.73 L255.1 414.71 L255.6 414.69 L256.1 414.66 L256.6 414.64 L257.1 414.62 L257.6 414.59 L258.1 414.56 L258.6 414.54 L259.1 414.51 L259.6 414.48 L260.1 414.46 L260.6 414.43 L261.1 414.4 L261.6 414.37 L262.1 414.33 L262.6 414.3 L263.1 414.27 L263.6 414.24 L264.1 414.2 L264.6 414.17 L265.1 414.13 L265.6 414.09 L266.1 414.05 L266.6 414.01 L267.1 413.97 L267.6 413.93 L268.1 413.88 L268.6 413.84 L269.1 413.79 L269.6 413.74 L270.1 413.69 L270.6 413.64 L271.1 413.59 L271.6 413.53 L272.1 413.48 L272.6 413.42 L273.1 413.36 L273.6 413.29 L274.1 413.23 L274.6 413.16 L275.1 413.08 L275.6 413.01 L276.1 412.93 L276.6 412.85 L277.1 412.77 L277.6 412.68 L278.1 412.59 L278.6 412.49 L279.1 412.39 L279.6 412.28 L280.1 412.17 L280.6 412.05 L281.1 411.92 L281.6 411.79 L282.1 411.66 L282.6 411.51 L283.1 411.35 L283.6 411.19 L284.1 411.01 L284.6 410.83 L285.1 410.63 L285.6 410.42 L286.1 410.2 L286.6 409.96 L287.1 409.7 L287.6 409.43 L288.1 409.14 L288.6 408.83 L289.1 408.5 L289.6 408.15 L290.1 407.78 L290.6 407.39 L291.1 406.98 L291.6 406.55 L292.1 406.1 L292.6 405.63 L293.1 405.15 L293.6 404.65 L294.1 404.15 L294.6 403.63 L295.1 403.11 L295.6 402.58 L296.1 402.04 L296.6 401.51 L297.1 400.97 L297.6 400.44 L298.1 399.9 L298.6 399.36 L299.1 398.83 L299.6 398.29 L300.1 397.76 L300.6 397.23 L301.1 396.7 L301.6 396.17 L302.1 395.64 L302.6 395.11 L303.1 394.59 L303.6 394.06 L304.1 393.54 L304.6 393.01 L305.1 392.5 L305.6 392 L306.1 391.5 L306.6 390.99 L307.1 390.49 L307.6 389.99 L308.1 389.48 L308.6 388.98 L309.1 388.47 L309.6 387.96 L310.1 387.45 L310.6 386.94 L311.1 386.43 L311.6 385.92 L312.1 385.41 L312.6 384.89 L313.1 384.38 L313.6 383.86 L314.1 383.35 L314.6 382.84 L315.1 382.34 L315.6 381.84 L316.1 381.34 L316.6 380.85 L317.1 380.38 L317.6 379.91 L318.1 379.46 L318.6 379.02 L319.1 378.6 L319.6 378.2 L320.1 377.82 L320.6 377.45 L321.1 377.11 L321.6 376.78 L322.1 376.47 L322.6 376.18 L323.1 375.91 L323.6 375.65 L324.1 375.41 L324.6 375.18 L325.1 374.97 L325.6 374.77 L326.1 374.58 L326.6 374.4 L327.1 374.23 L327.6 374.07 L328.1 373.92 L328.6 373.78 L329.1 373.65 L329.6 373.52 L330.1 373.4 L330.6 373.28 L331.1 373.17 L331.6 373.07 L332.1 372.97 L332.6 372.87 L333.1 372.78 L333.6 372.69 L334.1 372.61 L334.6 372.53 L335.1 372.45 L335.6 372.38 L336.1 372.31 L336.6 372.24 L337.1 372.17 L337.6 372.11 L338.1 372.05 L338.6 371.99 L339.1 371.93 L339.6 371.88 L340.1 371.83 L340.6 371.77 L341.1 371.72 L341.6 371.68 L342.1 371.63 L342.6 371.58 L343.1 371.54 L343.6 371.5 L344.1 371.46 L344.6 371.42 L345.1 371.38 L345.6 371.34 L346.1 371.3 L346.6 371.27" fill="none" stroke="#00ff00" stroke-width="1.3" stroke-linejoin="round"/>
<path d="M247.6 415.96 L248.1 415.95 L248.6 415.94 L249.1 415.92 L249.6 415.91 L250.1 415.89 L250.6 415.88 L251.1 415.86 L251.6 415.85 L252.1 415.83 L252.6 415.81 L253.1 415.8 L253.6 415.78 L254.1 415.76 L254.6 415.74 L255.1 415.72 L255.6 415.71 L256.1 415.69 L256.6 415.67 L257.1 415.65 L257.6 415.63 L258.1 415.6 L258.6 415.58 L259.1 415.56 L259.6 415.54 L260.1 415.52 L260.6 415.49 L261.1 415.47 L261.6 415.44 L262.1 415.42 L262.6 415.39 L263.1 415.36 L263.6 415.34 L264.1 415.31 L264.6 415.28 L265.1 415.25 L265.6 415.22 L266.1 415.19 L266.6 415.15 L267.1 415.12 L267.6 415.08 L268.1 415.05 L268.6 415.01 L269.1 414.97 L269.6 414.93 L270.1 414.89 L270.6 414.85 L271.1 414.81 L271.6 414.76 L272.1 414.71 L272.6 414.66 L273.1 414.61 L273.6 414.56 L274.1 414.51 L274.6 414.45 L275.1 414.39 L275.6 414.33 L276.1 414.26 L276.6 414.2 L277.1 414.13 L277.6 414.05 L278.1 413.98 L278.6 413.9 L279.1 413.81 L279.6 413.72 L280.1 413.63 L280.6 413.53 L281.1 413.42 L281.6 413.31 L282.1 413.19 L282.6 413.07 L283.1 412.94 L283.6 412.79 L284.1 412.64 L284.6 412.48 L285.1 412.31 L285.6 412.12 L286.1 411.92 L286.6 411.7 L287.1 411.47 L287.6 411.22 L288.1 410.94 L288.6 410.64 L289.1 410.32 L289.6 409.97 L290.1 409.59 L290.6 409.18 L291.1 408.74 L291.6 408.28 L292.1 407.78 L292.6 407.26 L293.1 406.71 L293.6 406.14 L294.1 405.56 L294.6 404.96 L295.1 404.36 L295.6 403.75 L296.1 403.13 L296.6 402.52 L297.1 401.91 L297.6 401.29 L298.1 400.68 L298.6 400.08 L299.1 399.48 L299.6 398.88 L300.1 398.28 L300.6 397.69 L301.1 397.1 L301.6 396.51 L302.1 395.93 L302.6 395.34 L303.1 394.76 L303.6 394.19 L304.1 393.61 L304.6 393.03 L305.1 392.46 L305.6 391.9 L306.1 391.34 L306.6 390.77 L307.1 390.21 L307.6 389.64 L308.1 389.07 L308.6 388.5 L309.1 387.93 L309.6 387.35 L310.1 386.77 L310.6 386.19 L311.1 385.6 L311.6 385.01 L312.1 384.42 L312.6 383.83 L313.1 383.23 L313.6 382.63 L314.1 382.03 L314.6 381.44 L315.1 380.85 L315.6 380.26 L316.1 379.69 L316.6 379.13 L317.1 378.59 L317.6 378.06 L318.1 377.56 L318.6 377.09 L319.1 376.64 L319.6 376.23 L320.1 375.84 L320.6 375.48 L321.1 375.15 L321.6 374.84 L322.1 374.55 L322.6 374.29 L323.1 374.05 L323.6 373.82 L324.1 373.61 L324.6 373.42 L325.1 373.23 L325.6 373.07 L326.1 372.91 L326.6 372.76 L327.1 372.62 L327.6 372.49 L328.1 372.37 L328.6 372.25 L329.1 372.14 L329.6 372.04 L330.1 371.94 L330.6 371.85 L331.1 371.76 L331.6 371.68 L332.1 371.6 L332.6 371.52 L333.1 371.45 L333.6 371.38 L334.1 371.31 L334.6 371.25 L335.1 371.19 L335.6 371.13 L336.1 371.07 L336.6 371.02 L337.1 370.97 L337.6 370.92 L338.1 370.87 L338.6 370.82 L339.1 370.77 L339.6 370.73 L340.1 370.69 L340.6 370.65 L341.1 370.61 L341.6 370.57 L342.1 370.53 L342.6 370.5 L343.1 370.46 L343.6 370.43 L344.1 370.39 L344.6 370.36 L345.1 370.33 L345.6 370.3 L346.1 370.27 L346.6 370.24" fill="none" stroke="#000000" stroke-width="1.3" stroke-linejoin="round"/>
<rect x="247.2" y="298.9" width="1.2" height="1.4" fill="#ff0000" fill-opacity="0.8"/>
<rect x="252.3" y="299.7" width="1.2" height="1.4" fill="#ff0000" fill-opacity="0.8"/>
<rect x="257.5" y="300.4" width="1.2" height="1.4" fill="#ff0000" fill-opacity="0.8"/>
<rect x="262.6" y="301.5" width="1.2" height="1.4" fill="#ff0000" fill-opacity="0.8"/>
<rect x="267.8" y="302.5" width="1.2" height="1.4" fill="#ff0000" fill-opacity="0.8"/>
<rect x="272.9" y="303.7" width="1.2" height="1.4" fill="#ff0000" fill-opacity="0.8"/>
<rect x="278" y="305.2" width="1.2" height="1.4" fill="#ff0000" fill-opacity="0.8"/>
<rect x="283.2" y="307.1" width="1.2" height="1.4" fill="#ff0000" fill-opacity="0.8"/>
<rect x="288.4" y="309.8" width="1.2" height="1.4" fill="#ff0000" fill-opacity="0.8"/>
<rect x="293.4" y="313.7" width="1.2" height="1.4" fill="#ff0000" fill-opacity="0.8"/>
<rect x="298" y="318.7" width="1.2" height="1.4" fill="#ff0000" fill-opacity="0.8"/>
<rect x="302" y="323.8" width="1.2" height="1.4" fill="#ff0000" fill-opacity="0.8"/>
<rect x="305.6" y="328.8" width="1.2" height="1.4" fill="#ff0000" fill-opacity="0.8"/>
<rect x="309.6" y="333.9" width="1.2" height="1.4" fill="#ff0000" fill-opacity="0.8"/>
<rect x="313.4" y="338.9" width="1.2" height="1.4" fill="#ff0000" fill-opacity="0.8"/>
<rect x="317.4" y="344.2" width="1.2" height="1.4" fill="#ff0000" fill-opacity="0.8"/>
<rect x="322.2" y="349.4" width="1.2" height="1.4" fill="#ff0000" fill-opacity="0.8"/>
<rect x="327.3" y="353.4" width="1.2" height="1.4" fill="#ff0000" fill-opacity="0.8"/>
<rect x="332.3" y="356.2" width="1.2" height="1.4" fill="#ff0000" fill-opacity="0.8"/>
<rect x="337.4" y="358.2" width="1.2" height="1.4" fill="#ff0000" fill-opacity="0.8"/>
<rect x="342.7" y="360" width="1.2" height="1.4" fill="#ff0000" fill-opacity="0.8"/>
<rect x="247.2" y="298.3" width="1.2" height="1.4" fill="#00ff00" fill-opacity="0.8"/>
<rect x="252.3" y="298.9" width="1.2" height="1.4" fill="#00ff00" fill-opacity="0.8"/>
<rect x="257.5" y="299.6" width="1.2" height="1.4" fill="#00ff00" fill-opacity="0.8"/>
<rect x="262.6" y="300.2" width="1.2" height="1.4" fill="#00ff00" fill-opacity="0.8"/>
<rect x="267.8" y="301.1" width="1.2" height="1.4" fill="#00ff00" fill-opacity="0.8"/>
<rect x="272.9" y="302.1" width="1.2" height="1.4" fill="#00ff00" fill-opacity="0.8"/>
<rect x="278" y="303.7" width="1.2" height="1.4" fill="#00ff00" fill-opacity="0.8"/>
<rect x="283.2" y="305.5" width="1.2" height="1.4" fill="#00ff00" fill-opacity="0.8"/>
<rect x="288.4" y="308" width="1.2" height="1.4" fill="#00ff00" fill-opacity="0.8"/>
<rect x="293.4" y="311.8" width="1.2" height="1.4" fill="#00ff00" fill-opacity="0.8"/>
<rect x="298" y="316.6" width="1.2" height="1.4" fill="#00ff00" fill-opacity="0.8"/>
<rect x="301.4" y="321.9" width="1.2" height="1.4" fill="#00ff00" fill-opacity="0.8"/>
<rect x="304.8" y="326.9" width="1.2" height="1.4" fill="#00ff00" fill-opacity="0.8"/>
<rect x="308" y="332" width="1.2" height="1.4" fill="#00ff00" fill-opacity="0.8"/>
<rect x="311.5" y="337" width="1.2" height="1.4" fill="#00ff00" fill-opacity="0.8"/>
<rect x="315" y="342.3" width="1.2" height="1.4" fill="#00ff00" fill-opacity="0.8"/>
<rect x="318.7" y="347.8" width="1.2" height="1.4" fill="#00ff00" fill-opacity="0.8"/>
<rect x="323.5" y="352.6" width="1.2" height="1.4" fill="#00ff00" fill-opacity="0.8"/>
<rect x="328.8" y="356.2" width="1.2" height="1.4" fill="#00ff00" fill-opacity="0.8"/>
<rect x="333.8" y="358.5" width="1.2" height="1.4" fill="#00ff00" fill-opacity="0.8"/>
<rect x="338.9" y="360.3" width="1.2" height="1.4" fill="#00ff00" fill-opacity="0.8"/>
<rect x="343.9" y="361.6" width="1.2" height="1.4" fill="#00ff00" fill-opacity="0.8"/>
<rect x="247.2" y="299.6" width="1.2" height="1.4" fill="#000000" fill-opacity="0.8"/>
<rect x="252.3" y="300.4" width="1.2" height="1.4" fill="#000000" fill-opacity="0.8"/>
<rect x="257.5" y="301.5" width="1.2" height="1.4" fill="#000000" fill-opacity="0.8"/>
<rect x="262.6" y="302.5" width="1.2" height="1.4" fill="#000000" fill-opacity="0.8"/>
<rect x="267.8" y="303.7" width="1.2" height="1.4" fill="#000000" fill-opacity="0.8"/>
<rect x="272.9" y="305" width="1.2" height="1.4" fill="#000000" fill-opacity="0.8"/>
<rect x="278" y="306.8" width="1.2" height="1.4" fill="#000000" fill-opacity="0.8"/>
<rect x="283.2" y="308.8" width="1.2" height="1.4" fill="#000000" fill-opacity="0.8"/>
<rect x="288.4" y="311.8" width="1.2" height="1.4" fill="#000000" fill-opacity="0.8"/>
<rect x="293.4" y="315.8" width="1.2" height="1.4" fill="#000000" fill-opacity="0.8"/>
<rect x="298.5" y="320.6" width="1.2" height="1.4" fill="#000000" fill-opacity="0.8"/>
<rect x="302.7" y="325.7" width="1.2" height="1.4" fill="#000000" fill-opacity="0.8"/>
<rect x="307.1" y="330.7" width="1.2" height="1.4" fill="#000000" fill-opacity="0.8"/>
<rect x="311.1" y="335.8" width="1.2" height="1.4" fill="#000000" fill-opacity="0.8"/>
<rect x="315.7" y="340.8" width="1.2" height="1.4" fill="#000000" fill-opacity="0.8"/>
<rect x="320.6" y="345.9" width="1.2" height="1.4" fill="#000000" fill-opacity="0.8"/>
<rect x="325.6" y="350.3" width="1.2" height="1.4" fill="#000000" fill-opacity="0.8"/>
<rect x="330.7" y="353.7" width="1.2" height="1.4" fill="#000000" fill-opacity="0.8"/>
<rect x="335.7" y="356" width="1.2" height="1.4" fill="#000000" fill-opacity="0.8"/>
<rect x="340.8" y="358" width="1.2" height="1.4" fill="#000000" fill-opacity="0.8"/>
<rect x="346" y="359.5" width="1.2" height="1.4" fill="#000000" fill-opacity="0.8"/>
<path d="M397.6 412.98 L398.1 412.96 L398.6 412.95 L399.1 412.93 L399.6 412.91 L400.1 412.89 L400.6 412.88 L401.1 412.86 L401.6 412.84 L402.1 412.82 L402.6 412.8 L403.1 412.78 L403.6 412.76 L404.1 412.74 L404.6 412.72 L405.1 412.7 L405.6 412.67 L406.1 412.65 L406.6 412.63 L407.1 412.61 L407.6 412.58 L408.1 412.56 L408.6 412.53 L409.1 412.51 L409.6 412.48 L410.1 412.46 L410.6 412.43 L411.1 412.4 L411.6 412.38 L412.1 412.35 L412.6 412.32 L413.1 412.29 L413.6 412.26 L414.1 412.23 L414.6 412.19 L415.1 412.16 L415.6 412.13 L416.1 412.09 L416.6 412.06 L417.1 412.02 L417.6 411.99 L418.1 411.95 L418.6 411.91 L419.1 411.87 L419.6 411.83 L420.1 411.79 L420.6 411.74 L421.1 411.7 L421.6 411.65 L422.1 411.6 L422.6 411.56 L423.1 411.51 L423.6 411.45 L424.1 411.4 L424.6 411.35 L425.1 411.29 L425.6 411.23 L426.1 411.17 L426.6 411.11 L427.1 411.05 L427.6 410.98 L428.1 410.91 L428.6 410.84 L429.1 410.77 L429.6 410.69 L430.1 410.61 L430.6 410.53 L431.1 410.44 L431.6 410.35 L432.1 410.26 L432.6 410.17 L433.1 410.07 L433.6 409.96 L434.1 409.85 L434.6 409.74 L435.1 409.62 L435.6 409.5 L436.1 409.37 L436.6 409.23 L437.1 409.09 L437.6 408.94 L438.1 408.79 L438.6 408.62 L439.1 408.45 L439.6 408.27 L440.1 408.08 L440.6 407.88 L441.1 407.67 L441.6 407.46 L442.1 407.23 L442.6 406.99 L443.1 406.73 L443.6 406.47 L444.1 406.2 L444.6 405.91 L445.1 405.61 L445.6 405.3 L446.1 404.98 L446.6 404.65 L447.1 404.31 L447.6 403.96 L448.1 403.6 L448.6 403.23 L449.1 402.85 L449.6 402.47 L450.1 402.09 L450.6 401.69 L451.1 401.3 L451.6 400.9 L452.1 400.5 L452.6 400.09 L453.1 399.69 L453.6 399.28 L454.1 398.87 L454.6 398.47 L455.1 398.06 L455.6 397.65 L456.1 397.24 L456.6 396.83 L457.1 396.42 L457.6 396.01 L458.1 395.6 L458.6 395.19 L459.1 394.79 L459.6 394.38 L460.1 393.97 L460.6 393.56 L461.1 393.14 L461.6 392.67 L462.1 392.21 L462.6 391.75 L463.1 391.28 L463.6 390.82 L464.1 390.36 L464.6 389.89 L465.1 389.43 L465.6 388.96 L466.1 388.5 L466.6 388.03 L467.1 387.57 L467.6 387.11 L468.1 386.65 L468.6 386.19 L469.1 385.73 L469.6 385.28 L470.1 384.83 L470.6 384.38 L471.1 383.95 L471.6 383.52 L472.1 383.09 L472.6 382.68 L473.1 382.28 L473.6 381.89 L474.1 381.52 L474.6 381.16 L475.1 380.81 L475.6 380.48 L476.1 380.16 L476.6 379.86 L477.1 379.57 L477.6 379.3 L478.1 379.04 L478.6 378.8 L479.1 378.57 L479.6 378.35 L480.1 378.14 L480.6 377.94 L481.1 377.76 L481.6 377.58 L482.1 377.42 L482.6 377.26 L483.1 377.11 L483.6 376.96 L484.1 376.83 L484.6 376.7 L485.1 376.58 L485.6 376.46 L486.1 376.35 L486.6 376.24 L487.1 376.14 L487.6 376.04 L488.1 375.95 L488.6 375.86 L489.1 375.77 L489.6 375.69 L490.1 375.61 L490.6 375.53 L491.1 375.46 L491.6 375.39 L492.1 375.32 L492.6 375.25 L493.1 375.19 L493.6 375.13 L494.1 375.07 L494.6 375.01 L495.1 374.96 L495.6 374.9 L496.1 374.85 L496.6 374.8" fill="none" stroke="#ff0000" stroke-width="1.3" stroke-linejoin="round"/>
<path d="M397.6 413.98 L398.1 413.97 L398.6 413.95 L399.1 413.94 L399.6 413.93 L400.1 413.91 L400.6 413.9 L401.1 413.89 L401.6 413.87 L402.1 413.86 L402.6 413.84 L403.1 413.83 L403.6 413.81 L404.1 413.8 L404.6 413.78 L405.1 413.76 L405.6 413.75 L406.1 413.73 L406.6 413.71 L407.1 413.69 L407.6 413.68 L408.1 413.66 L408.6 413.64 L409.1 413.62 L409.6 413.6 L410.1 413.58 L410.6 413.56 L411.1 413.54 L411.6 413.52 L412.1 413.49 L412.6 413.47 L413.1 413.45 L413.6 413.43 L414.1 413.4 L414.6 413.38 L415.1 413.35 L415.6 413.33 L416.1 413.3 L416.6 413.27 L417.1 413.25 L417.6 413.22 L418.1 413.19 L418.6 413.16 L419.1 413.13 L419.6 413.1 L420.1 413.06 L420.6 413.03 L421.1 413 L421.6 412.96 L422.1 412.93 L422.6 412.89 L423.1 412.85 L423.6 412.81 L424.1 412.77 L424.6 412.73 L425.1 412.69 L425.6 412.64 L426.1 412.6 L426.6 412.55 L427.1 412.5 L427.6 412.45 L428.1 412.4 L428.6 412.34 L429.1 412.29 L429.6 412.23 L430.1 412.17 L430.6 412.1 L431.1 412.04 L431.6 411.97 L432.1 411.9 L432.6 411.82 L433.1 411.75 L433.6 411.67 L434.1 411.58 L434.6 411.49 L435.1 411.4 L435.6 411.3 L436.1 411.2 L436.6 411.09 L437.1 410.98 L437.6 410.86 L438.1 410.74 L438.6 410.61 L439.1 410.47 L439.6 410.32 L440.1 410.16 L440.6 409.99 L441.1 409.82 L441.6 409.63 L442.1 409.43 L442.6 409.22 L443.1 408.99 L443.6 408.74 L444.1 408.49 L444.6 408.21 L445.1 407.91 L445.6 407.6 L446.1 407.27 L446.6 406.92 L447.1 406.55 L447.6 406.15 L448.1 405.75 L448.6 405.32 L449.1 404.88 L449.6 404.42 L450.1 403.95 L450.6 403.48 L451.1 402.99 L451.6 402.5 L452.1 402 L452.6 401.5 L453.1 400.99 L453.6 400.49 L454.1 399.99 L454.6 399.48 L455.1 398.98 L455.6 398.47 L456.1 397.97 L456.6 397.47 L457.1 396.97 L457.6 396.47 L458.1 395.97 L458.6 395.48 L459.1 394.98 L459.6 394.49 L460.1 393.99 L460.6 393.5 L461.1 393.01 L461.6 392.5 L462.1 391.96 L462.6 391.41 L463.1 390.87 L463.6 390.33 L464.1 389.79 L464.6 389.24 L465.1 388.7 L465.6 388.15 L466.1 387.6 L466.6 387.05 L467.1 386.49 L467.6 385.94 L468.1 385.39 L468.6 384.83 L469.1 384.28 L469.6 383.73 L470.1 383.18 L470.6 382.63 L471.1 382.1 L471.6 381.57 L472.1 381.06 L472.6 380.56 L473.1 380.07 L473.6 379.61 L474.1 379.17 L474.6 378.75 L475.1 378.35 L475.6 377.98 L476.1 377.62 L476.6 377.3 L477.1 376.99 L477.6 376.71 L478.1 376.44 L478.6 376.19 L479.1 375.96 L479.6 375.75 L480.1 375.55 L480.6 375.36 L481.1 375.18 L481.6 375.02 L482.1 374.87 L482.6 374.72 L483.1 374.58 L483.6 374.45 L484.1 374.33 L484.6 374.22 L485.1 374.11 L485.6 374 L486.1 373.9 L486.6 373.81 L487.1 373.72 L487.6 373.64 L488.1 373.56 L488.6 373.48 L489.1 373.4 L489.6 373.33 L490.1 373.26 L490.6 373.2 L491.1 373.14 L491.6 373.08 L492.1 373.02 L492.6 372.96 L493.1 372.91 L493.6 372.86 L494.1 372.81 L494.6 372.76 L495.1 372.71 L495.6 372.67 L496.1 372.62 L496.6 372.58" fill="none" stroke="#00ff00" stroke-width="1.3" stroke-linejoin="round"/>
<path d="M397.6 414.84 L398.1 414.83 L398.6 414.82 L399.1 414.81 L399.6 414.8 L400.1 414.79 L400.6 414.78 L401.1 414.77 L401.6 414.76 L402.1 414.75 L402.6 414.74 L403.1 414.73 L403.6 414.72 L404.1 414.71 L404.6 414.69 L405.1 414.68 L405.6 414.67 L406.1 414.66 L406.6 414.65 L407.1 414.63 L407.6 414.62 L408.1 414.61 L408.6 414.6 L409.1 414.58 L409.6 414.57 L410.1 414.55 L410.6 414.54 L411.1 414.53 L411.6 414.51 L412.1 414.5 L412.6 414.48 L413.1 414.46 L413.6 414.45 L414.1 414.43 L414.6 414.41 L415.1 414.4 L415.6 414.38 L416.1 414.36 L416.6 414.34 L417.1 414.32 L417.6 414.3 L418.1 414.28 L418.6 414.26 L419.1 414.24 L419.6 414.22 L420.1 414.19 L420.6 414.17 L421.1 414.15 L421.6 414.12 L422.1 414.1 L422.6 414.07 L423.1 414.04 L423.6 414.01 L424.1 413.99 L424.6 413.96 L425.1 413.93 L425.6 413.89 L426.1 413.86 L426.6 413.83 L427.1 413.79 L427.6 413.76 L428.1 413.72 L428.6 413.68 L429.1 413.64 L429.6 413.6 L430.1 413.55 L430.6 413.51 L431.1 413.46 L431.6 413.41 L432.1 413.36 L432.6 413.31 L433.1 413.25 L433.6 413.19 L434.1 413.13 L434.6 413.07 L435.1 413 L435.6 412.93 L436.1 412.85 L436.6 412.77 L437.1 412.69 L437.6 412.6 L438.1 412.51 L438.6 412.41 L439.1 412.3 L439.6 412.19 L440.1 412.06 L440.6 411.93 L441.1 411.79 L441.6 411.64 L442.1 411.47 L442.6 411.3 L443.1 411.1 L443.6 410.89 L444.1 410.66 L444.6 410.4 L445.1 410.12 L445.6 409.82 L446.1 409.48 L446.6 409.11 L447.1 408.7 L447.6 408.26 L448.1 407.78 L448.6 407.27 L449.1 406.73 L449.6 406.16 L450.1 405.57 L450.6 404.96 L451.1 404.34 L451.6 403.72 L452.1 403.09 L452.6 402.46 L453.1 401.84 L453.6 401.22 L454.1 400.61 L454.6 400 L455.1 399.39 L455.6 398.79 L456.1 398.2 L456.6 397.61 L457.1 397.02 L457.6 396.44 L458.1 395.87 L458.6 395.29 L459.1 394.72 L459.6 394.15 L460.1 393.58 L460.6 393.02 L461.1 392.45 L461.6 391.9 L462.1 391.35 L462.6 390.8 L463.1 390.25 L463.6 389.7 L464.1 389.14 L464.6 388.58 L465.1 388.02 L465.6 387.45 L466.1 386.88 L466.6 386.31 L467.1 385.73 L467.6 385.14 L468.1 384.55 L468.6 383.96 L469.1 383.36 L469.6 382.76 L470.1 382.15 L470.6 381.54 L471.1 380.94 L471.6 380.34 L472.1 379.74 L472.6 379.16 L473.1 378.6 L473.6 378.06 L474.1 377.55 L474.6 377.06 L475.1 376.61 L475.6 376.2 L476.1 375.82 L476.6 375.47 L477.1 375.15 L477.6 374.86 L478.1 374.59 L478.6 374.35 L479.1 374.13 L479.6 373.92 L480.1 373.74 L480.6 373.56 L481.1 373.4 L481.6 373.26 L482.1 373.12 L482.6 372.99 L483.1 372.87 L483.6 372.76 L484.1 372.66 L484.6 372.56 L485.1 372.46 L485.6 372.38 L486.1 372.29 L486.6 372.22 L487.1 372.14 L487.6 372.07 L488.1 372 L488.6 371.94 L489.1 371.88 L489.6 371.82 L490.1 371.76 L490.6 371.71 L491.1 371.66 L491.6 371.61 L492.1 371.56 L492.6 371.52 L493.1 371.48 L493.6 371.43 L494.1 371.39 L494.6 371.36 L495.1 371.32 L495.6 371.28 L496.1 371.25 L496.6 371.21" fill="none" stroke="#000000" stroke-width="1.3" stroke-linejoin="round"/>
<rect x="397.2" y="297.3" width="1.2" height="1.4" fill="#ff0000" fill-opacity="0.8"/>
<rect x="402.3" y="297.7" width="1.2" height="1.4" fill="#ff0000" fill-opacity="0.8"/>
<rect x="407.5" y="298.5" width="1.2" height="1.4" fill="#ff0000" fill-opacity="0.8"/>
<rect x="412.6" y="299.3" width="1.2" height="1.4" fill="#ff0000" fill-opacity="0.8"/>
<rect x="417.8" y="300.2" width="1.2" height="1.4" fill="#ff0000" fill-opacity="0.8"/>
<rect x="422.9" y="300.9" width="1.2" height="1.4" fill="#ff0000" fill-opacity="0.8"/>
<rect x="428" y="302.1" width="1.2" height="1.4" fill="#ff0000" fill-opacity="0.8"/>
<rect x="433.2" y="303.5" width="1.2" height="1.4" fill="#ff0000" fill-opacity="0.8"/>
<rect x="438.4" y="305.2" width="1.2" height="1.4" fill="#ff0000" fill-opacity="0.8"/>
<rect x="443.7" y="307.6" width="1.2" height="1.4" fill="#ff0000" fill-opacity="0.8"/>
<rect x="448.6" y="310.9" width="1.2" height="1.4" fill="#ff0000" fill-opacity="0.8"/>
<rect x="453.6" y="315" width="1.2" height="1.4" fill="#ff0000" fill-opacity="0.8"/>
<rect x="458.7" y="319.8" width="1.2" height="1.4" fill="#ff0000" fill-opacity="0.8"/>
<rect x="462.1" y="325.1" width="1.2" height="1.4" fill="#ff0000" fill-opacity="0.8"/>
<rect x="465" y="330.2" width="1.2" height="1.4" fill="#ff0000" fill-opacity="0.8"/>
<rect x="467.7" y="335.6" width="1.2" height="1.4" fill="#ff0000" fill-opacity="0.8"/>
<rect x="470.9" y="340.6" width="1.2" height="1.4" fill="#ff0000" fill-opacity="0.8"/>
<rect x="474.7" y="345.7" width="1.2" height="1.4" fill="#ff0000" fill-opacity="0.8"/>
<rect x="479.5" y="350.3" width="1.2" height="1.4" fill="#ff0000" fill-opacity="0.8"/>
<rect x="484.5" y="354.5" width="1.2" height="1.4" fill="#ff0000" fill-opacity="0.8"/>
<rect x="489.8" y="357.3" width="1.2" height="1.4" fill="#ff0000" fill-opacity="0.8"/>
<rect x="397.2" y="296.4" width="1.2" height="1.4" fill="#00ff00" fill-opacity="0.8"/>
<rect x="402.3" y="296.9" width="1.2" height="1.4" fill="#00ff00" fill-opacity="0.8"/>
<rect x="407.5" y="297.7" width="1.2" height="1.4" fill="#00ff00" fill-opacity="0.8"/>
<rect x="412.6" y="298.3" width="1.2" height="1.4" fill="#00ff00" fill-opacity="0.8"/>
<rect x="417.8" y="299.2" width="1.2" height="1.4" fill="#00ff00" fill-opacity="0.8"/>
<rect x="422.9" y="299.9" width="1.2" height="1.4" fill="#00ff00" fill-opacity="0.8"/>
<rect x="428" y="300.9" width="1.2" height="1.4" fill="#00ff00" fill-opacity="0.8"/>
<rect x="433.2" y="302.2" width="1.2" height="1.4" fill="#00ff00" fill-opacity="0.8"/>
<rect x="438.4" y="304" width="1.2" height="1.4" fill="#00ff00" fill-opacity="0.8"/>
<rect x="443.7" y="306.2" width="1.2" height="1.4" fill="#00ff00" fill-opacity="0.8"/>
<rect x="448.6" y="309.4" width="1.2" height="1.4" fill="#00ff00" fill-opacity="0.8"/>
<rect x="453.6" y="313.4" width="1.2" height="1.4" fill="#00ff00" fill-opacity="0.8"/>
<rect x="458" y="318.6" width="1.2" height="1.4" fill="#00ff00" fill-opacity="0.8"/>
<rect x="461.2" y="323.6" width="1.2" height="1.4" fill="#00ff00" fill-opacity="0.8"/>
<rect x="464.2" y="328.9" width="1.2" height="1.4" fill="#00ff00" fill-opacity="0.8"/>
<rect x="466.9" y="334.2" width="1.2" height="1.4" fill="#00ff00" fill-opacity="0.8"/>
<rect x="469.9" y="339.4" width="1.2" height="1.4" fill="#00ff00" fill-opacity="0.8"/>
<rect x="473.2" y="344.7" width="1.2" height="1.4" fill="#00ff00" fill-opacity="0.8"/>
<rect x="477.2" y="349.4" width="1.2" height="1.4" fill="#00ff00" fill-opacity="0.8"/>
<rect x="482.6" y="354.1" width="1.2" height="1.4" fill="#00ff00" fill-opacity="0.8"/>
<rect x="487.5" y="357.6" width="1.2" height="1.4" fill="#00ff00" fill-opacity="0.8"/>
<rect x="397.2" y="295.8" width="1.2" height="1.4" fill="#000000" fill-opacity="0.8"/>
<rect x="402.3" y="296.2" width="1.2" height="1.4" fill="#000000" fill-opacity="0.8"/>
<rect x="407.5" y="296.8" width="1.2" height="1.4" fill="#000000" fill-opacity="0.8"/>
<rect x="412.6" y="297.4" width="1.2" height="1.4" fill="#000000" fill-opacity="0.8"/>
<rect x="417.8" y="298" width="1.2" height="1.4" fill="#000000" fill-opacity="0.8"/>
<rect x="422.9" y="298.7" width="1.2" height="1.4" fill="#000000" fill-opacity="0.8"/>
<rect x="428" y="299.8" width="1.2" height="1.4" fill="#000000" fill-opacity="0.8"/>
<rect x="433.2" y="300.8" width="1.2" height="1.4" fill="#000000" fill-opacity="0.8"/>
<rect x="438.4" y="302.5" width="1.2" height="1.4" fill="#000000" fill-opacity="0.8"/>
<rect x="443.7" y="304.6" width="1.2" height="1.4" fill="#000000" fill-opacity="0.8"/>
<rect x="448.6" y="307.9" width="1.2" height="1.4" fill="#000000" fill-opacity="0.8"/>
<rect x="453.6" y="311.9" width="1.2" height="1.4" fill="#000000" fill-opacity="0.8"/>
<rect x="457.4" y="317.2" width="1.2" height="1.4" fill="#000000" fill-opacity="0.8"/>
<rect x="460.4" y="322.4" width="1.2" height="1.4" fill="#000000" fill-opacity="0.8"/>
<rect x="463.3" y="327.6" width="1.2" height="1.4" fill="#000000" fill-opacity="0.8"/>
<rect x="466.1" y="332.7" width="1.2" height="1.4" fill="#000000" fill-opacity="0.8"/>
<rect x="469" y="337.7" width="1.2" height="1.4" fill="#000000" fill-opacity="0.8"/>
<rect x="471.9" y="343" width="1.2" height="1.4" fill="#000000" fill-opacity="0.8"/>
<rect x="475.3" y="348.1" width="1.2" height="1.4" fill="#000000" fill-opacity="0.8"/>
<rect x="479.3" y="353.1" width="1.2" height="1.4" fill="#000000" fill-opacity="0.8"/>
<rect x="484.4" y="357.3" width="1.2" height="1.4" fill="#000000" fill-opacity="0.8"/>
<rect x="489.5" y="360" width="1.2" height="1.4" fill="#000000" fill-opacity="0.8"/>
<path d="M247.8 464.51 L248.3 465.05 L248.8 465.6 L249.3 466.15 L249.8 466.7 L250.3 467.26 L250.8 467.82 L251.3 468.39 L251.8 468.96 L252.3 469.54 L252.8 470.12 L253.3 470.7 L253.8 471.29 L254.3 471.88 L254.8 472.48 L255.3 473.09 L255.8 473.69 L256.3 474.31 L256.8 474.92 L257.3 475.55 L257.8 476.17 L258.3 476.81 L258.8 477.45 L259.3 478.09 L259.8 478.74 L260.3 479.39 L260.8 480.05 L261.3 480.72 L261.8 481.39 L262.3 482.06 L262.8 482.74 L263.3 483.43 L263.8 484.12 L264.3 484.82 L264.8 485.53 L265.3 486.24 L265.8 486.96 L266.3 487.68 L266.8 488.41 L267.3 489.14 L267.8 489.88 L268.3 490.63 L268.8 491.39 L269.3 492.15 L269.8 492.91 L270.3 493.69 L270.8 494.47 L271.3 495.25 L271.8 496.04 L272.3 496.84 L272.8 497.65 L273.3 498.46 L273.8 499.28 L274.3 500.1 L274.8 500.93 L275.3 501.77 L275.8 502.61 L276.3 503.46 L276.8 504.31 L277.3 505.17 L277.8 506.04 L278.3 506.91 L278.8 507.78 L279.3 508.66 L279.8 509.55 L280.3 510.44 L280.8 511.33 L281.3 512.23 L281.8 513.13 L282.3 514.03 L282.8 514.94 L283.3 515.85 L283.8 516.76 L284.3 517.67 L284.8 518.57 L285.3 519.48 L285.8 520.39 L286.3 521.3 L286.8 522.2 L287.3 523.1 L287.8 523.99 L288.3 524.88 L288.8 525.76 L289.3 526.63 L289.8 527.49 L290.3 528.34 L290.8 529.18 L291.3 530.01 L291.8 530.82 L292.3 531.61 L292.8 532.39 L293.3 533.15 L293.8 533.89 L294.3 534.61 L294.8 535.31 L295.3 535.98 L295.8 536.63 L296.3 537.25 L296.8 537.84 L297.3 538.4 L297.8 538.94 L298.3 539.44 L298.8 539.91 L299.3 540.35 L299.8 540.76 L300.3 541.13 L300.8 541.47 L301.3 541.77 L301.8 542.03 L302.3 542.26 L302.8 542.45 L303.3 542.61 L303.8 542.73 L304.3 542.81 L304.8 542.85 L305.3 542.85 L305.8 542.82 L306.3 542.75 L306.8 542.64 L307.3 542.5 L307.8 542.31 L308.3 542.1 L308.8 541.84 L309.3 541.55 L309.8 541.22 L310.3 540.86 L310.8 540.46 L311.3 540.03 L311.8 539.57 L312.3 539.07 L312.8 538.54 L313.3 537.99 L313.8 537.4 L314.3 536.79 L314.8 536.15 L315.3 535.48 L315.8 534.79 L316.3 534.08 L316.8 533.35 L317.3 532.59 L317.8 531.82 L318.3 531.03 L318.8 530.22 L319.3 529.4 L319.8 528.56 L320.3 527.71 L320.8 526.85 L321.3 525.98 L321.8 525.11 L322.3 524.22 L322.8 523.33 L323.3 522.43 L323.8 521.53 L324.3 520.63 L324.8 519.72 L325.3 518.81 L325.8 517.9 L326.3 516.99 L326.8 516.08 L327.3 515.17 L327.8 514.27 L328.3 513.36 L328.8 512.46 L329.3 511.56 L329.8 510.67 L330.3 509.78 L330.8 508.89 L331.3 508.01 L331.8 507.13 L332.3 506.26 L332.8 505.39 L333.3 504.53 L333.8 503.67 L334.3 502.83 L334.8 501.98 L335.3 501.14 L335.8 500.31 L336.3 499.49 L336.8 498.67 L337.3 497.85 L337.8 497.05 L338.3 496.25 L338.8 495.45 L339.3 494.67 L339.8 493.89 L340.3 493.11 L340.8 492.34 L341.3 491.58 L341.8 490.82 L342.3 490.08 L342.8 489.33 L343.3 488.6 L343.8 487.86 L344.3 487.14 L344.8 486.42 L345.3 485.71 L345.8 485 L346.3 484.3 L346.8 483.61" fill="none" stroke="#ff0000" stroke-width="1.3" stroke-linejoin="round"/>
<path d="M247.8 464.82 L248.3 465.34 L248.8 465.88 L249.3 466.41 L249.8 466.95 L250.3 467.5 L250.8 468.05 L251.3 468.61 L251.8 469.17 L252.3 469.73 L252.8 470.31 L253.3 470.88 L253.8 471.47 L254.3 472.05 L254.8 472.65 L255.3 473.25 L255.8 473.85 L256.3 474.46 L256.8 475.08 L257.3 475.71 L257.8 476.34 L258.3 476.97 L258.8 477.62 L259.3 478.27 L259.8 478.92 L260.3 479.59 L260.8 480.26 L261.3 480.94 L261.8 481.62 L262.3 482.32 L262.8 483.02 L263.3 483.73 L263.8 484.44 L264.3 485.17 L264.8 485.9 L265.3 486.65 L265.8 487.4 L266.3 488.16 L266.8 488.93 L267.3 489.71 L267.8 490.5 L268.3 491.3 L268.8 492.11 L269.3 492.93 L269.8 493.76 L270.3 494.6 L270.8 495.45 L271.3 496.31 L271.8 497.19 L272.3 498.07 L272.8 498.97 L273.3 499.88 L273.8 500.8 L274.3 501.74 L274.8 502.69 L275.3 503.65 L275.8 504.62 L276.3 505.61 L276.8 506.62 L277.3 507.63 L277.8 508.66 L278.3 509.71 L278.8 510.77 L279.3 511.84 L279.8 512.93 L280.3 514.03 L280.8 515.15 L281.3 516.28 L281.8 517.42 L282.3 518.58 L282.8 519.75 L283.3 520.93 L283.8 522.12 L284.3 523.33 L284.8 524.54 L285.3 525.76 L285.8 526.98 L286.3 528.21 L286.8 529.44 L287.3 530.67 L287.8 531.9 L288.3 533.12 L288.8 534.32 L289.3 535.52 L289.8 536.69 L290.3 537.85 L290.8 538.98 L291.3 540.08 L291.8 541.15 L292.3 542.19 L292.8 543.19 L293.3 544.15 L293.8 545.06 L294.3 545.94 L294.8 546.76 L295.3 547.55 L295.8 548.29 L296.3 548.98 L296.8 549.63 L297.3 550.23 L297.8 550.79 L298.3 551.31 L298.8 551.78 L299.3 552.22 L299.8 552.62 L300.3 552.98 L300.8 553.3 L301.3 553.59 L301.8 553.84 L302.3 554.06 L302.8 554.24 L303.3 554.39 L303.8 554.51 L304.3 554.6 L304.8 554.65 L305.3 554.68 L305.8 554.67 L306.3 554.63 L306.8 554.56 L307.3 554.46 L307.8 554.32 L308.3 554.15 L308.8 553.95 L309.3 553.71 L309.8 553.43 L310.3 553.12 L310.8 552.77 L311.3 552.38 L311.8 551.96 L312.3 551.49 L312.8 550.97 L313.3 550.42 L313.8 549.82 L314.3 549.17 L314.8 548.48 L315.3 547.74 L315.8 546.95 L316.3 546.12 L316.8 545.24 L317.3 544.32 L317.8 543.35 L318.3 542.34 L318.8 541.29 L319.3 540.2 L319.8 539.08 L320.3 537.93 L320.8 536.76 L321.3 535.56 L321.8 534.34 L322.3 533.11 L322.8 531.87 L323.3 530.63 L323.8 529.37 L324.3 528.12 L324.8 526.87 L325.3 525.62 L325.8 524.38 L326.3 523.15 L326.8 521.93 L327.3 520.71 L327.8 519.51 L328.3 518.32 L328.8 517.15 L329.3 515.99 L329.8 514.84 L330.3 513.71 L330.8 512.59 L331.3 511.49 L331.8 510.4 L332.3 509.32 L332.8 508.27 L333.3 507.22 L333.8 506.19 L334.3 505.18 L334.8 504.18 L335.3 503.19 L335.8 502.22 L336.3 501.26 L336.8 500.31 L337.3 499.38 L337.8 498.46 L338.3 497.55 L338.8 496.66 L339.3 495.78 L339.8 494.9 L340.3 494.04 L340.8 493.2 L341.3 492.36 L341.8 491.53 L342.3 490.71 L342.8 489.91 L343.3 489.11 L343.8 488.33 L344.3 487.55 L344.8 486.78 L345.3 486.02 L345.8 485.27 L346.3 484.53 L346.8 483.8" fill="none" stroke="#00ff00" stroke-width="1.3" stroke-linejoin="round"/>
<path d="M247.8 464.75 L248.3 465.3 L248.8 465.86 L249.3 466.42 L249.8 466.98 L250.3 467.55 L250.8 468.13 L251.3 468.71 L251.8 469.29 L252.3 469.89 L252.8 470.48 L253.3 471.09 L253.8 471.7 L254.3 472.31 L254.8 472.94 L255.3 473.57 L255.8 474.2 L256.3 474.84 L256.8 475.49 L257.3 476.15 L257.8 476.81 L258.3 477.48 L258.8 478.16 L259.3 478.84 L259.8 479.53 L260.3 480.24 L260.8 480.94 L261.3 481.66 L261.8 482.39 L262.3 483.12 L262.8 483.87 L263.3 484.62 L263.8 485.38 L264.3 486.15 L264.8 486.93 L265.3 487.72 L265.8 488.53 L266.3 489.34 L266.8 490.16 L267.3 491 L267.8 491.84 L268.3 492.7 L268.8 493.57 L269.3 494.45 L269.8 495.35 L270.3 496.26 L270.8 497.18 L271.3 498.12 L271.8 499.07 L272.3 500.03 L272.8 501.01 L273.3 502.01 L273.8 503.02 L274.3 504.05 L274.8 505.1 L275.3 506.16 L275.8 507.24 L276.3 508.34 L276.8 509.46 L277.3 510.6 L277.8 511.76 L278.3 512.94 L278.8 514.14 L279.3 515.37 L279.8 516.61 L280.3 517.88 L280.8 519.17 L281.3 520.49 L281.8 521.82 L282.3 523.19 L282.8 524.57 L283.3 525.98 L283.8 527.41 L284.3 528.87 L284.8 530.35 L285.3 531.84 L285.8 533.35 L286.3 534.88 L286.8 536.42 L287.3 537.96 L287.8 539.51 L288.3 541.05 L288.8 542.58 L289.3 544.1 L289.8 545.58 L290.3 547.04 L290.8 548.45 L291.3 549.81 L291.8 551.11 L292.3 552.35 L292.8 553.53 L293.3 554.64 L293.8 555.68 L294.3 556.65 L294.8 557.55 L295.3 558.38 L295.8 559.15 L296.3 559.85 L296.8 560.5 L297.3 561.09 L297.8 561.63 L298.3 562.11 L298.8 562.55 L299.3 562.95 L299.8 563.31 L300.3 563.62 L300.8 563.9 L301.3 564.14 L301.8 564.35 L302.3 564.53 L302.8 564.67 L303.3 564.79 L303.8 564.87 L304.3 564.92 L304.8 564.95 L305.3 564.95 L305.8 564.91 L306.3 564.85 L306.8 564.75 L307.3 564.63 L307.8 564.47 L308.3 564.29 L308.8 564.06 L309.3 563.81 L309.8 563.51 L310.3 563.18 L310.8 562.8 L311.3 562.38 L311.8 561.92 L312.3 561.41 L312.8 560.84 L313.3 560.22 L313.8 559.54 L314.3 558.8 L314.8 558 L315.3 557.13 L315.8 556.19 L316.3 555.17 L316.8 554.09 L317.3 552.94 L317.8 551.71 L318.3 550.42 L318.8 549.07 L319.3 547.67 L319.8 546.22 L320.3 544.74 L320.8 543.22 L321.3 541.68 L321.8 540.13 L322.3 538.57 L322.8 537.01 L323.3 535.45 L323.8 533.9 L324.3 532.37 L324.8 530.86 L325.3 529.36 L325.8 527.88 L326.3 526.43 L326.8 525 L327.3 523.59 L327.8 522.21 L328.3 520.85 L328.8 519.52 L329.3 518.21 L329.8 516.92 L330.3 515.66 L330.8 514.42 L331.3 513.2 L331.8 512.01 L332.3 510.83 L332.8 509.68 L333.3 508.54 L333.8 507.43 L334.3 506.33 L334.8 505.26 L335.3 504.2 L335.8 503.16 L336.3 502.13 L336.8 501.13 L337.3 500.13 L337.8 499.16 L338.3 498.2 L338.8 497.25 L339.3 496.32 L339.8 495.4 L340.3 494.5 L340.8 493.6 L341.3 492.73 L341.8 491.86 L342.3 491 L342.8 490.16 L343.3 489.33 L343.8 488.51 L344.3 487.7 L344.8 486.9 L345.3 486.11 L345.8 485.34 L346.3 484.57 L346.8 483.81" fill="none" stroke="#000000" stroke-width="1.3" stroke-linejoin="round"/>
<rect x="247.2" y="451.2" width="1.2" height="1.4" fill="#ff0000" fill-opacity="0.8"/>
<rect x="252.4" y="455.4" width="1.2" height="1.4" fill="#ff0000" fill-opacity="0.8"/>
<rect x="257.5" y="459.7" width="1.2" height="1.4" fill="#ff0000" fill-opacity="0.8"/>
<rect x="262.5" y="464.2" width="1.2" height="1.4" fill="#ff0000" fill-opacity="0.8"/>
<rect x="267.4" y="469.6" width="1.2" height="1.4" fill="#ff0000" fill-opacity="0.8"/>
<rect x="271.8" y="474.6" width="1.2" height="1.4" fill="#ff0000" fill-opacity="0.8"/>
<rect x="276" y="479.9" width="1.2" height="1.4" fill="#ff0000" fill-opacity="0.8"/>
<rect x="279.6" y="485" width="1.2" height="1.4" fill="#ff0000" fill-opacity="0.8"/>
<rect x="283.2" y="490" width="1.2" height="1.4" fill="#ff0000" fill-opacity="0.8"/>
<rect x="286.5" y="495.2" width="1.2" height="1.4" fill="#ff0000" fill-opacity="0.8"/>
<rect x="289.7" y="500.5" width="1.2" height="1.4" fill="#ff0000" fill-opacity="0.8"/>
<rect x="293.1" y="505.6" width="1.2" height="1.4" fill="#ff0000" fill-opacity="0.8"/>
<rect x="296.9" y="510.7" width="1.2" height="1.4" fill="#ff0000" fill-opacity="0.8"/>
<rect x="301.5" y="515.5" width="1.2" height="1.4" fill="#ff0000" fill-opacity="0.8"/>
<rect x="306.5" y="518" width="1.2" height="1.4" fill="#ff0000" fill-opacity="0.8"/>
<rect x="311.8" y="517.4" width="1.2" height="1.4" fill="#ff0000" fill-opacity="0.8"/>
<rect x="316.9" y="513.6" width="1.2" height="1.4" fill="#ff0000" fill-opacity="0.8"/>
<rect x="321" y="508.4" width="1.2" height="1.4" fill="#ff0000" fill-opacity="0.8"/>
<rect x="324.6" y="503.4" width="1.2" height="1.4" fill="#ff0000" fill-opacity="0.8"/>
<rect x="328" y="498.3" width="1.2" height="1.4" fill="#ff0000" fill-opacity="0.8"/>
<rect x="331.1" y="492.9" width="1.2" height="1.4" fill="#ff0000" fill-opacity="0.8"/>
<rect x="334.7" y="487.9" width="1.2" height="1.4" fill="#ff0000" fill-opacity="0.8"/>
<rect x="338.2" y="482.8" width="1.2" height="1.4" fill="#ff0000" fill-opacity="0.8"/>
<rect x="342" y="477.8" width="1.2" height="1.4" fill="#ff0000" fill-opacity="0.8"/>
<rect x="346.3" y="472.7" width="1.2" height="1.4" fill="#ff0000" fill-opacity="0.8"/>
<rect x="247.2" y="452.5" width="1.2" height="1.4" fill="#00ff00" fill-opacity="0.8"/>
<rect x="252.4" y="456.9" width="1.2" height="1.4" fill="#00ff00" fill-opacity="0.8"/>
<rect x="257.5" y="461.3" width="1.2" height="1.4" fill="#00ff00" fill-opacity="0.8"/>
<rect x="262.1" y="466.4" width="1.2" height="1.4" fill="#00ff00" fill-opacity="0.8"/>
<rect x="266.3" y="471.4" width="1.2" height="1.4" fill="#00ff00" fill-opacity="0.8"/>
<rect x="270.3" y="476.7" width="1.2" height="1.4" fill="#00ff00" fill-opacity="0.8"/>
<rect x="274.1" y="481.8" width="1.2" height="1.4" fill="#00ff00" fill-opacity="0.8"/>
<rect x="277.5" y="487" width="1.2" height="1.4" fill="#00ff00" fill-opacity="0.8"/>
<rect x="280.4" y="492" width="1.2" height="1.4" fill="#00ff00" fill-opacity="0.8"/>
<rect x="283.6" y="497.1" width="1.2" height="1.4" fill="#00ff00" fill-opacity="0.8"/>
<rect x="286.2" y="502.4" width="1.2" height="1.4" fill="#00ff00" fill-opacity="0.8"/>
<rect x="288.7" y="507.5" width="1.2" height="1.4" fill="#00ff00" fill-opacity="0.8"/>
<rect x="291.2" y="512.6" width="1.2" height="1.4" fill="#00ff00" fill-opacity="0.8"/>
<rect x="293.7" y="517.9" width="1.2" height="1.4" fill="#00ff00" fill-opacity="0.8"/>
<rect x="296.3" y="522.9" width="1.2" height="1.4" fill="#00ff00" fill-opacity="0.8"/>
<rect x="299.2" y="528" width="1.2" height="1.4" fill="#00ff00" fill-opacity="0.8"/>
<rect x="303.3" y="532.8" width="1.2" height="1.4" fill="#00ff00" fill-opacity="0.8"/>
<rect x="308.4" y="534.7" width="1.2" height="1.4" fill="#00ff00" fill-opacity="0.8"/>
<rect x="313.7" y="532.4" width="1.2" height="1.4" fill="#00ff00" fill-opacity="0.8"/>
<rect x="317.5" y="527.3" width="1.2" height="1.4" fill="#00ff00" fill-opacity="0.8"/>
<rect x="320.4" y="522.3" width="1.2" height="1.4" fill="#00ff00" fill-opacity="0.8"/>
<rect x="322.8" y="517" width="1.2" height="1.4" fill="#00ff00" fill-opacity="0.8"/>
<rect x="325.3" y="511.9" width="1.2" height="1.4" fill="#00ff00" fill-opacity="0.8"/>
<rect x="327.7" y="506.8" width="1.2" height="1.4" fill="#00ff00" fill-opacity="0.8"/>
<rect x="330.3" y="501.7" width="1.2" height="1.4" fill="#00ff00" fill-opacity="0.8"/>
<rect x="332.8" y="496.3" width="1.2" height="1.4" fill="#00ff00" fill-opacity="0.8"/>
<rect x="335.9" y="491.6" width="1.2" height="1.4" fill="#00ff00" fill-opacity="0.8"/>
<rect x="339.3" y="486" width="1.2" height="1.4" fill="#00ff00" fill-opacity="0.8"/>
<rect x="342.6" y="481.2" width="1.2" height="1.4" fill="#00ff00" fill-opacity="0.8"/>
<rect x="346.3" y="475.9" width="1.2" height="1.4" fill="#00ff00" fill-opacity="0.8"/>
<rect x="247.2" y="453.8" width="1.2" height="1.4" fill="#000000" fill-opacity="0.8"/>
<rect x="252.4" y="458.4" width="1.2" height="1.4" fill="#000000" fill-opacity="0.8"/>
<rect x="257.1" y="463.2" width="1.2" height="1.4" fill="#000000" fill-opacity="0.8"/>
<rect x="261.9" y="468.3" width="1.2" height="1.4" fill="#000000" fill-opacity="0.8"/>
<rect x="265.9" y="473.6" width="1.2" height="1.4" fill="#000000" fill-opacity="0.8"/>
<rect x="270" y="478.6" width="1.2" height="1.4" fill="#000000" fill-opacity="0.8"/>
<rect x="273.5" y="483.7" width="1.2" height="1.4" fill="#000000" fill-opacity="0.8"/>
<rect x="276.9" y="488.7" width="1.2" height="1.4" fill="#000000" fill-opacity="0.8"/>
<rect x="279.8" y="493.8" width="1.2" height="1.4" fill="#000000" fill-opacity="0.8"/>
<rect x="282.3" y="498.8" width="1.2" height="1.4" fill="#000000" fill-opacity="0.8"/>
<rect x="284.8" y="504" width="1.2" height="1.4" fill="#000000" fill-opacity="0.8"/>
<rect x="286.9" y="509" width="1.2" height="1.4" fill="#000000" fill-opacity="0.8"/>
<rect x="288.9" y="514.3" width="1.2" height="1.4" fill="#000000" fill-opacity="0.8"/>
<rect x="291" y="519.3" width="1.2" height="1.4" fill="#000000" fill-opacity="0.8"/>
<rect x="292.8" y="524.5" width="1.2" height="1.4" fill="#000000" fill-opacity="0.8"/>
<rect x="294.5" y="529.6" width="1.2" height="1.4" fill="#000000" fill-opacity="0.8"/>
<rect x="296.7" y="534.9" width="1.2" height="1.4" fill="#000000" fill-opacity="0.8"/>
<rect x="298.8" y="540" width="1.2" height="1.4" fill="#000000" fill-opacity="0.8"/>
<rect x="301.5" y="545" width="1.2" height="1.4" fill="#000000" fill-opacity="0.8"/>
<rect x="306.1" y="549.2" width="1.2" height="1.4" fill="#000000" fill-opacity="0.8"/>
<rect x="311.6" y="548.5" width="1.2" height="1.4" fill="#000000" fill-opacity="0.8"/>
<rect x="315.6" y="543.7" width="1.2" height="1.4" fill="#000000" fill-opacity="0.8"/>
<rect x="318.4" y="538.7" width="1.2" height="1.4" fill="#000000" fill-opacity="0.8"/>
<rect x="320.4" y="533.4" width="1.2" height="1.4" fill="#000000" fill-opacity="0.8"/>
<rect x="322.3" y="528.3" width="1.2" height="1.4" fill="#000000" fill-opacity="0.8"/>
<rect x="324.2" y="523.3" width="1.2" height="1.4" fill="#000000" fill-opacity="0.8"/>
<rect x="326.1" y="518" width="1.2" height="1.4" fill="#000000" fill-opacity="0.8"/>
<rect x="328" y="512.9" width="1.2" height="1.4" fill="#000000" fill-opacity="0.8"/>
<rect x="329.9" y="507.9" width="1.2" height="1.4" fill="#000000" fill-opacity="0.8"/>
<rect x="331.8" y="502.8" width="1.2" height="1.4" fill="#000000" fill-opacity="0.8"/>
<rect x="333.9" y="497.8" width="1.2" height="1.4" fill="#000000" fill-opacity="0.8"/>
<rect x="336.1" y="492.7" width="1.2" height="1.4" fill="#000000" fill-opacity="0.8"/>
<rect x="338.6" y="487.6" width="1.2" height="1.4" fill="#000000" fill-opacity="0.8"/>
<rect x="341.4" y="482.5" width="1.2" height="1.4" fill="#000000" fill-opacity="0.8"/>
<path d="M397.8 466.84 L398.3 467.34 L398.8 467.84 L399.3 468.35 L399.8 468.86 L400.3 469.37 L400.8 469.89 L401.3 470.41 L401.8 470.93 L402.3 471.46 L402.8 472 L403.3 472.54 L403.8 473.08 L404.3 473.63 L404.8 474.18 L405.3 474.74 L405.8 475.3 L406.3 475.87 L406.8 476.44 L407.3 477.02 L407.8 477.61 L408.3 478.2 L408.8 478.79 L409.3 479.39 L409.8 480 L410.3 480.61 L410.8 481.23 L411.3 481.85 L411.8 482.49 L412.3 483.12 L412.8 483.77 L413.3 484.42 L413.8 485.07 L414.3 485.74 L414.8 486.41 L415.3 487.09 L415.8 487.77 L416.3 488.46 L416.8 489.16 L417.3 489.87 L417.8 490.59 L418.3 491.31 L418.8 492.04 L419.3 492.79 L419.8 493.53 L420.3 494.29 L420.8 495.06 L421.3 495.84 L421.8 496.62 L422.3 497.42 L422.8 498.23 L423.3 499.04 L423.8 499.87 L424.3 500.71 L424.8 501.55 L425.3 502.41 L425.8 503.28 L426.3 504.17 L426.8 505.06 L427.3 505.97 L427.8 506.89 L428.3 507.82 L428.8 508.76 L429.3 509.72 L429.8 510.69 L430.3 511.68 L430.8 512.68 L431.3 513.69 L431.8 514.72 L432.3 515.77 L432.8 516.83 L433.3 517.91 L433.8 519 L434.3 520.11 L434.8 521.23 L435.3 522.37 L435.8 523.53 L436.3 524.71 L436.8 525.9 L437.3 527.11 L437.8 528.33 L438.3 529.57 L438.8 530.83 L439.3 532.1 L439.8 533.39 L440.3 534.69 L440.8 536 L441.3 537.32 L441.8 538.65 L442.3 539.98 L442.8 541.32 L443.3 542.66 L443.8 544 L444.3 545.33 L444.8 546.65 L445.3 547.96 L445.8 549.25 L446.3 550.51 L446.8 551.74 L447.3 552.95 L447.8 554.11 L448.3 555.24 L448.8 556.32 L449.3 557.35 L449.8 558.34 L450.3 559.27 L450.8 560.16 L451.3 560.99 L451.8 561.77 L452.3 562.51 L452.8 563.19 L453.3 563.82 L453.8 564.41 L454.3 564.95 L454.8 565.45 L455.3 565.9 L455.8 566.31 L456.3 566.69 L456.8 567.02 L457.3 567.32 L457.8 567.58 L458.3 567.81 L458.8 568.01 L459.3 568.17 L459.8 568.3 L460.3 568.4 L460.8 568.47 L461.3 568.51 L461.8 568.51 L462.3 568.48 L462.8 568.42 L463.3 568.31 L463.8 568.17 L464.3 567.98 L464.8 567.76 L465.3 567.5 L465.8 567.19 L466.3 566.84 L466.8 566.44 L467.3 565.99 L467.8 565.5 L468.3 564.95 L468.8 564.35 L469.3 563.69 L469.8 562.97 L470.3 562.2 L470.8 561.36 L471.3 560.46 L471.8 559.5 L472.3 558.47 L472.8 557.38 L473.3 556.24 L473.8 555.03 L474.3 553.77 L474.8 552.47 L475.3 551.12 L475.8 549.73 L476.3 548.32 L476.8 546.87 L477.3 545.41 L477.8 543.94 L478.3 542.45 L478.8 540.97 L479.3 539.49 L479.8 538.01 L480.3 536.54 L480.8 535.08 L481.3 533.64 L481.8 532.21 L482.3 530.81 L482.8 529.41 L483.3 528.04 L483.8 526.69 L484.3 525.36 L484.8 524.05 L485.3 522.76 L485.8 521.49 L486.3 520.24 L486.8 519.01 L487.3 517.8 L487.8 516.61 L488.3 515.44 L488.8 514.29 L489.3 513.15 L489.8 512.04 L490.3 510.94 L490.8 509.86 L491.3 508.8 L491.8 507.75 L492.3 506.72 L492.8 505.7 L493.3 504.71 L493.8 503.72 L494.3 502.75 L494.8 501.79 L495.3 500.85 L495.8 499.92 L496.3 499.01 L496.8 498.1" fill="none" stroke="#000000" stroke-width="1.3" stroke-linejoin="round"/>
<path d="M397.8 467.19 L398.3 467.66 L398.8 468.14 L399.3 468.62 L399.8 469.11 L400.3 469.6 L400.8 470.09 L401.3 470.59 L401.8 471.09 L402.3 471.6 L402.8 472.11 L403.3 472.63 L403.8 473.15 L404.3 473.67 L404.8 474.2 L405.3 474.73 L405.8 475.27 L406.3 475.81 L406.8 476.36 L407.3 476.91 L407.8 477.47 L408.3 478.03 L408.8 478.6 L409.3 479.17 L409.8 479.75 L410.3 480.34 L410.8 480.93 L411.3 481.52 L411.8 482.12 L412.3 482.73 L412.8 483.34 L413.3 483.96 L413.8 484.59 L414.3 485.22 L414.8 485.86 L415.3 486.5 L415.8 487.16 L416.3 487.82 L416.8 488.48 L417.3 489.16 L417.8 489.84 L418.3 490.52 L418.8 491.22 L419.3 491.92 L419.8 492.64 L420.3 493.36 L420.8 494.08 L421.3 494.82 L421.8 495.56 L422.3 496.32 L422.8 497.08 L423.3 497.85 L423.8 498.64 L424.3 499.43 L424.8 500.23 L425.3 501.04 L425.8 501.86 L426.3 502.69 L426.8 503.53 L427.3 504.39 L427.8 505.25 L428.3 506.12 L428.8 507.01 L429.3 507.91 L429.8 508.82 L430.3 509.74 L430.8 510.67 L431.3 511.62 L431.8 512.57 L432.3 513.54 L432.8 514.53 L433.3 515.52 L433.8 516.53 L434.3 517.55 L434.8 518.58 L435.3 519.63 L435.8 520.68 L436.3 521.75 L436.8 522.83 L437.3 523.92 L437.8 525.02 L438.3 526.14 L438.8 527.26 L439.3 528.38 L439.8 529.52 L440.3 530.65 L440.8 531.8 L441.3 532.94 L441.8 534.08 L442.3 535.23 L442.8 536.36 L443.3 537.49 L443.8 538.61 L444.3 539.71 L444.8 540.8 L445.3 541.87 L445.8 542.92 L446.3 543.94 L446.8 544.93 L447.3 545.9 L447.8 546.83 L448.3 547.72 L448.8 548.58 L449.3 549.4 L449.8 550.19 L450.3 550.93 L450.8 551.64 L451.3 552.3 L451.8 552.93 L452.3 553.51 L452.8 554.06 L453.3 554.57 L453.8 555.05 L454.3 555.49 L454.8 555.89 L455.3 556.26 L455.8 556.6 L456.3 556.9 L456.8 557.18 L457.3 557.42 L457.8 557.63 L458.3 557.81 L458.8 557.97 L459.3 558.09 L459.8 558.19 L460.3 558.26 L460.8 558.31 L461.3 558.32 L461.8 558.31 L462.3 558.27 L462.8 558.19 L463.3 558.07 L463.8 557.93 L464.3 557.75 L464.8 557.53 L465.3 557.28 L465.8 556.99 L466.3 556.67 L466.8 556.31 L467.3 555.9 L467.8 555.46 L468.3 554.97 L468.8 554.44 L469.3 553.86 L469.8 553.24 L470.3 552.57 L470.8 551.86 L471.3 551.1 L471.8 550.29 L472.3 549.43 L472.8 548.52 L473.3 547.57 L473.8 546.58 L474.3 545.55 L474.8 544.47 L475.3 543.36 L475.8 542.22 L476.3 541.06 L476.8 539.86 L477.3 538.65 L477.8 537.42 L478.3 536.18 L478.8 534.93 L479.3 533.67 L479.8 532.42 L480.3 531.16 L480.8 529.9 L481.3 528.66 L481.8 527.42 L482.3 526.18 L482.8 524.96 L483.3 523.75 L483.8 522.56 L484.3 521.37 L484.8 520.2 L485.3 519.05 L485.8 517.91 L486.3 516.78 L486.8 515.67 L487.3 514.58 L487.8 513.5 L488.3 512.43 L488.8 511.38 L489.3 510.35 L489.8 509.33 L490.3 508.32 L490.8 507.33 L491.3 506.35 L491.8 505.38 L492.3 504.43 L492.8 503.5 L493.3 502.57 L493.8 501.66 L494.3 500.76 L494.8 499.87 L495.3 499 L495.8 498.13 L496.3 497.28 L496.8 496.44" fill="none" stroke="#00ff00" stroke-width="1.3" stroke-linejoin="round"/>
<path d="M397.8 467.55 L398.3 468 L398.8 468.45 L399.3 468.9 L399.8 469.36 L400.3 469.82 L400.8 470.28 L401.3 470.75 L401.8 471.22 L402.3 471.7 L402.8 472.18 L403.3 472.66 L403.8 473.15 L404.3 473.64 L404.8 474.14 L405.3 474.64 L405.8 475.14 L406.3 475.65 L406.8 476.16 L407.3 476.68 L407.8 477.21 L408.3 477.73 L408.8 478.27 L409.3 478.8 L409.8 479.34 L410.3 479.89 L410.8 480.44 L411.3 481 L411.8 481.57 L412.3 482.13 L412.8 482.71 L413.3 483.29 L413.8 483.87 L414.3 484.46 L414.8 485.06 L415.3 485.66 L415.8 486.27 L416.3 486.89 L416.8 487.51 L417.3 488.14 L417.8 488.78 L418.3 489.42 L418.8 490.07 L419.3 490.72 L419.8 491.38 L420.3 492.05 L420.8 492.73 L421.3 493.42 L421.8 494.11 L422.3 494.81 L422.8 495.52 L423.3 496.23 L423.8 496.96 L424.3 497.69 L424.8 498.43 L425.3 499.18 L425.8 499.94 L426.3 500.71 L426.8 501.48 L427.3 502.27 L427.8 503.06 L428.3 503.86 L428.8 504.67 L429.3 505.5 L429.8 506.33 L430.3 507.17 L430.8 508.02 L431.3 508.87 L431.8 509.74 L432.3 510.62 L432.8 511.51 L433.3 512.4 L433.8 513.3 L434.3 514.22 L434.8 515.14 L435.3 516.06 L435.8 517 L436.3 517.94 L436.8 518.89 L437.3 519.84 L437.8 520.8 L438.3 521.76 L438.8 522.72 L439.3 523.69 L439.8 524.65 L440.3 525.62 L440.8 526.58 L441.3 527.53 L441.8 528.48 L442.3 529.42 L442.8 530.35 L443.3 531.27 L443.8 532.17 L444.3 533.06 L444.8 533.93 L445.3 534.77 L445.8 535.6 L446.3 536.4 L446.8 537.18 L447.3 537.93 L447.8 538.66 L448.3 539.35 L448.8 540.02 L449.3 540.65 L449.8 541.26 L450.3 541.83 L450.8 542.38 L451.3 542.89 L451.8 543.38 L452.3 543.83 L452.8 544.26 L453.3 544.65 L453.8 545.02 L454.3 545.36 L454.8 545.67 L455.3 545.95 L455.8 546.21 L456.3 546.44 L456.8 546.65 L457.3 546.83 L457.8 546.99 L458.3 547.12 L458.8 547.23 L459.3 547.31 L459.8 547.37 L460.3 547.41 L460.8 547.42 L461.3 547.41 L461.8 547.37 L462.3 547.3 L462.8 547.21 L463.3 547.09 L463.8 546.95 L464.3 546.78 L464.8 546.57 L465.3 546.34 L465.8 546.09 L466.3 545.8 L466.8 545.48 L467.3 545.13 L467.8 544.75 L468.3 544.33 L468.8 543.89 L469.3 543.41 L469.8 542.89 L470.3 542.35 L470.8 541.76 L471.3 541.15 L471.8 540.5 L472.3 539.81 L472.8 539.1 L473.3 538.35 L473.8 537.56 L474.3 536.75 L474.8 535.91 L475.3 535.04 L475.8 534.14 L476.3 533.23 L476.8 532.29 L477.3 531.33 L477.8 530.35 L478.3 529.37 L478.8 528.37 L479.3 527.36 L479.8 526.34 L480.3 525.32 L480.8 524.3 L481.3 523.27 L481.8 522.25 L482.3 521.23 L482.8 520.21 L483.3 519.19 L483.8 518.18 L484.3 517.18 L484.8 516.19 L485.3 515.2 L485.8 514.22 L486.3 513.25 L486.8 512.3 L487.3 511.35 L487.8 510.41 L488.3 509.48 L488.8 508.56 L489.3 507.65 L489.8 506.75 L490.3 505.87 L490.8 504.99 L491.3 504.12 L491.8 503.27 L492.3 502.42 L492.8 501.59 L493.3 500.76 L493.8 499.95 L494.3 499.14 L494.8 498.35 L495.3 497.56 L495.8 496.78 L496.3 496.02 L496.8 495.26" fill="none" stroke="#ff0000" stroke-width="1.3" stroke-linejoin="round"/>
<rect x="397.2" y="453.8" width="1.2" height="1.4" fill="#ff0000" fill-opacity="0.8"/>
<rect x="402.4" y="456.9" width="1.2" height="1.4" fill="#ff0000" fill-opacity="0.8"/>
<rect x="407.7" y="460.3" width="1.2" height="1.4" fill="#ff0000" fill-opacity="0.8"/>
<rect x="412.8" y="463.9" width="1.2" height="1.4" fill="#ff0000" fill-opacity="0.8"/>
<rect x="417.8" y="467.9" width="1.2" height="1.4" fill="#ff0000" fill-opacity="0.8"/>
<rect x="422.9" y="472.1" width="1.2" height="1.4" fill="#ff0000" fill-opacity="0.8"/>
<rect x="427.9" y="476.9" width="1.2" height="1.4" fill="#ff0000" fill-opacity="0.8"/>
<rect x="432.8" y="481.8" width="1.2" height="1.4" fill="#ff0000" fill-opacity="0.8"/>
<rect x="437.4" y="486.7" width="1.2" height="1.4" fill="#ff0000" fill-opacity="0.8"/>
<rect x="441.8" y="491.7" width="1.2" height="1.4" fill="#ff0000" fill-opacity="0.8"/>
<rect x="446.6" y="496.8" width="1.2" height="1.4" fill="#ff0000" fill-opacity="0.8"/>
<rect x="451.5" y="501.6" width="1.2" height="1.4" fill="#ff0000" fill-opacity="0.8"/>
<rect x="456.5" y="504.1" width="1.2" height="1.4" fill="#ff0000" fill-opacity="0.8"/>
<rect x="461.7" y="502.1" width="1.2" height="1.4" fill="#ff0000" fill-opacity="0.8"/>
<rect x="465.9" y="497.6" width="1.2" height="1.4" fill="#ff0000" fill-opacity="0.8"/>
<rect x="470.4" y="502.5" width="1.2" height="1.4" fill="#ff0000" fill-opacity="0.8"/>
<rect x="475.4" y="504.1" width="1.2" height="1.4" fill="#ff0000" fill-opacity="0.8"/>
<rect x="480.5" y="501.3" width="1.2" height="1.4" fill="#ff0000" fill-opacity="0.8"/>
<rect x="485.7" y="496" width="1.2" height="1.4" fill="#ff0000" fill-opacity="0.8"/>
<rect x="490" y="490.9" width="1.2" height="1.4" fill="#ff0000" fill-opacity="0.8"/>
<rect x="397.2" y="455" width="1.2" height="1.4" fill="#00ff00" fill-opacity="0.8"/>
<rect x="402.4" y="458.2" width="1.2" height="1.4" fill="#00ff00" fill-opacity="0.8"/>
<rect x="407.7" y="461.7" width="1.2" height="1.4" fill="#00ff00" fill-opacity="0.8"/>
<rect x="412.8" y="465.5" width="1.2" height="1.4" fill="#00ff00" fill-opacity="0.8"/>
<rect x="417.8" y="469.6" width="1.2" height="1.4" fill="#00ff00" fill-opacity="0.8"/>
<rect x="422.9" y="474" width="1.2" height="1.4" fill="#00ff00" fill-opacity="0.8"/>
<rect x="427.7" y="479" width="1.2" height="1.4" fill="#00ff00" fill-opacity="0.8"/>
<rect x="431.9" y="484.2" width="1.2" height="1.4" fill="#00ff00" fill-opacity="0.8"/>
<rect x="435.7" y="489.9" width="1.2" height="1.4" fill="#00ff00" fill-opacity="0.8"/>
<rect x="439.6" y="494.8" width="1.2" height="1.4" fill="#00ff00" fill-opacity="0.8"/>
<rect x="443.1" y="499.9" width="1.2" height="1.4" fill="#00ff00" fill-opacity="0.8"/>
<rect x="446.5" y="505.1" width="1.2" height="1.4" fill="#00ff00" fill-opacity="0.8"/>
<rect x="449.7" y="510.3" width="1.2" height="1.4" fill="#00ff00" fill-opacity="0.8"/>
<rect x="453.1" y="515.5" width="1.2" height="1.4" fill="#00ff00" fill-opacity="0.8"/>
<rect x="457.2" y="520.2" width="1.2" height="1.4" fill="#00ff00" fill-opacity="0.8"/>
<rect x="462.3" y="522.1" width="1.2" height="1.4" fill="#00ff00" fill-opacity="0.8"/>
<rect x="467.5" y="522.1" width="1.2" height="1.4" fill="#00ff00" fill-opacity="0.8"/>
<rect x="472.8" y="521.3" width="1.2" height="1.4" fill="#00ff00" fill-opacity="0.8"/>
<rect x="477.2" y="516.8" width="1.2" height="1.4" fill="#00ff00" fill-opacity="0.8"/>
<rect x="480.8" y="511.6" width="1.2" height="1.4" fill="#00ff00" fill-opacity="0.8"/>
<rect x="484" y="506.4" width="1.2" height="1.4" fill="#00ff00" fill-opacity="0.8"/>
<rect x="487.5" y="501" width="1.2" height="1.4" fill="#00ff00" fill-opacity="0.8"/>
<rect x="490.1" y="495.8" width="1.2" height="1.4" fill="#00ff00" fill-opacity="0.8"/>
<rect x="397.2" y="456.3" width="1.2" height="1.4" fill="#000000" fill-opacity="0.8"/>
<rect x="402.4" y="459.5" width="1.2" height="1.4" fill="#000000" fill-opacity="0.8"/>
<rect x="407.7" y="463.2" width="1.2" height="1.4" fill="#000000" fill-opacity="0.8"/>
<rect x="412.8" y="467.3" width="1.2" height="1.4" fill="#000000" fill-opacity="0.8"/>
<rect x="417.8" y="471.4" width="1.2" height="1.4" fill="#000000" fill-opacity="0.8"/>
<rect x="422.9" y="476.1" width="1.2" height="1.4" fill="#000000" fill-opacity="0.8"/>
<rect x="427" y="481.2" width="1.2" height="1.4" fill="#000000" fill-opacity="0.8"/>
<rect x="431.1" y="486.3" width="1.2" height="1.4" fill="#000000" fill-opacity="0.8"/>
<rect x="434.9" y="491.3" width="1.2" height="1.4" fill="#000000" fill-opacity="0.8"/>
<rect x="438.2" y="496.3" width="1.2" height="1.4" fill="#000000" fill-opacity="0.8"/>
<rect x="441.2" y="501.7" width="1.2" height="1.4" fill="#000000" fill-opacity="0.8"/>
<rect x="444.1" y="506.8" width="1.2" height="1.4" fill="#000000" fill-opacity="0.8"/>
<rect x="446.8" y="512.1" width="1.2" height="1.4" fill="#000000" fill-opacity="0.8"/>
<rect x="449.2" y="517.1" width="1.2" height="1.4" fill="#000000" fill-opacity="0.8"/>
<rect x="451.5" y="522.1" width="1.2" height="1.4" fill="#000000" fill-opacity="0.8"/>
<rect x="453.9" y="527.3" width="1.2" height="1.4" fill="#000000" fill-opacity="0.8"/>
<rect x="456.3" y="532.5" width="1.2" height="1.4" fill="#000000" fill-opacity="0.8"/>
<rect x="459.4" y="537.6" width="1.2" height="1.4" fill="#000000" fill-opacity="0.8"/>
<rect x="464.6" y="540.4" width="1.2" height="1.4" fill="#000000" fill-opacity="0.8"/>
<rect x="469.8" y="539.5" width="1.2" height="1.4" fill="#000000" fill-opacity="0.8"/>
<rect x="474.1" y="534.7" width="1.2" height="1.4" fill="#000000" fill-opacity="0.8"/>
<rect x="476.9" y="529.7" width="1.2" height="1.4" fill="#000000" fill-opacity="0.8"/>
<rect x="479.1" y="524.7" width="1.2" height="1.4" fill="#000000" fill-opacity="0.8"/>
<rect x="481.5" y="519.5" width="1.2" height="1.4" fill="#000000" fill-opacity="0.8"/>
<rect x="483.5" y="514.3" width="1.2" height="1.4" fill="#000000" fill-opacity="0.8"/>
<rect x="486.2" y="509.2" width="1.2" height="1.4" fill="#000000" fill-opacity="0.8"/>
<rect x="488.6" y="504.2" width="1.2" height="1.4" fill="#000000" fill-opacity="0.8"/>
<rect x="490.4" y="499.8" width="1.2" height="1.4" fill="#000000" fill-opacity="0.8"/>
</g>
<g id="axes" shape-rendering="auto">
<rect x="86.6" y="288.5" width="121.2" height="135.1" fill="none" stroke="#222222" stroke-width="0.85"/>
<line x1="86.6" y1="421.2" x2="86.6" y2="425.7" stroke="#222222" stroke-width="0.75"/>
<line x1="86.6" y1="288.5" x2="86.6" y2="290.9" stroke="#222222" stroke-width="0.75"/>
<line x1="106.8" y1="421.2" x2="106.8" y2="425.7" stroke="#222222" stroke-width="0.75"/>
<line x1="106.8" y1="288.5" x2="106.8" y2="290.9" stroke="#222222" stroke-width="0.75"/>
<line x1="127" y1="421.2" x2="127" y2="425.7" stroke="#222222" stroke-width="0.75"/>
<line x1="127" y1="288.5" x2="127" y2="290.9" stroke="#222222" stroke-width="0.75"/>
<line x1="147.2" y1="421.2" x2="147.2" y2="425.7" stroke="#222222" stroke-width="0.75"/>
<line x1="147.2" y1="288.5" x2="147.2" y2="290.9" stroke="#222222" stroke-width="0.75"/>
<line x1="167.4" y1="421.2" x2="167.4" y2="425.7" stroke="#222222" stroke-width="0.75"/>
<line x1="167.4" y1="288.5" x2="167.4" y2="290.9" stroke="#222222" stroke-width="0.75"/>
<line x1="187.6" y1="421.2" x2="187.6" y2="425.7" stroke="#222222" stroke-width="0.75"/>
<line x1="187.6" y1="288.5" x2="187.6" y2="290.9" stroke="#222222" stroke-width="0.75"/>
<line x1="207.8" y1="421.2" x2="207.8" y2="425.7" stroke="#222222" stroke-width="0.75"/>
<line x1="207.8" y1="288.5" x2="207.8" y2="290.9" stroke="#222222" stroke-width="0.75"/>
<line x1="96.7" y1="422.1" x2="96.7" y2="423.6" stroke="#222222" stroke-width="0.75"/>
<line x1="96.7" y1="288.5" x2="96.7" y2="290" stroke="#222222" stroke-width="0.75"/>
<line x1="116.9" y1="422.1" x2="116.9" y2="423.6" stroke="#222222" stroke-width="0.75"/>
<line x1="116.9" y1="288.5" x2="116.9" y2="290" stroke="#222222" stroke-width="0.75"/>
<line x1="137.1" y1="422.1" x2="137.1" y2="423.6" stroke="#222222" stroke-width="0.75"/>
<line x1="137.1" y1="288.5" x2="137.1" y2="290" stroke="#222222" stroke-width="0.75"/>
<line x1="157.3" y1="422.1" x2="157.3" y2="423.6" stroke="#222222" stroke-width="0.75"/>
<line x1="157.3" y1="288.5" x2="157.3" y2="290" stroke="#222222" stroke-width="0.75"/>
<line x1="177.5" y1="422.1" x2="177.5" y2="423.6" stroke="#222222" stroke-width="0.75"/>
<line x1="177.5" y1="288.5" x2="177.5" y2="290" stroke="#222222" stroke-width="0.75"/>
<line x1="197.7" y1="422.1" x2="197.7" y2="423.6" stroke="#222222" stroke-width="0.75"/>
<line x1="197.7" y1="288.5" x2="197.7" y2="290" stroke="#222222" stroke-width="0.75"/>
<line x1="84.5" y1="423.6" x2="89" y2="423.6" stroke="#222222" stroke-width="0.75"/>
<line x1="205.4" y1="423.6" x2="207.8" y2="423.6" stroke="#222222" stroke-width="0.75"/>
<line x1="84.5" y1="404.3" x2="89" y2="404.3" stroke="#222222" stroke-width="0.75"/>
<line x1="205.4" y1="404.3" x2="207.8" y2="404.3" stroke="#222222" stroke-width="0.75"/>
<line x1="84.5" y1="385" x2="89" y2="385" stroke="#222222" stroke-width="0.75"/>
<line x1="205.4" y1="385" x2="207.8" y2="385" stroke="#222222" stroke-width="0.75"/>
<line x1="84.5" y1="365.7" x2="89" y2="365.7" stroke="#222222" stroke-width="0.75"/>
<line x1="205.4" y1="365.7" x2="207.8" y2="365.7" stroke="#222222" stroke-width="0.75"/>
<line x1="84.5" y1="346.4" x2="89" y2="346.4" stroke="#222222" stroke-width="0.75"/>
<line x1="205.4" y1="346.4" x2="207.8" y2="346.4" stroke="#222222" stroke-width="0.75"/>
<line x1="84.5" y1="327.1" x2="89" y2="327.1" stroke="#222222" stroke-width="0.75"/>
<line x1="205.4" y1="327.1" x2="207.8" y2="327.1" stroke="#222222" stroke-width="0.75"/>
<line x1="84.5" y1="307.8" x2="89" y2="307.8" stroke="#222222" stroke-width="0.75"/>
<line x1="205.4" y1="307.8" x2="207.8" y2="307.8" stroke="#222222" stroke-width="0.75"/>
<line x1="84.5" y1="288.5" x2="89" y2="288.5" stroke="#222222" stroke-width="0.75"/>
<line x1="205.4" y1="288.5" x2="207.8" y2="288.5" stroke="#222222" stroke-width="0.75"/>
<line x1="86.6" y1="413.95" x2="88.1" y2="413.95" stroke="#222222" stroke-width="0.75"/>
<line x1="206.3" y1="413.95" x2="207.8" y2="413.95" stroke="#222222" stroke-width="0.75"/>
<line x1="86.6" y1="394.65" x2="88.1" y2="394.65" stroke="#222222" stroke-width="0.75"/>
<line x1="206.3" y1="394.65" x2="207.8" y2="394.65" stroke="#222222" stroke-width="0.75"/>
<line x1="86.6" y1="375.35" x2="88.1" y2="375.35" stroke="#222222" stroke-width="0.75"/>
<line x1="206.3" y1="375.35" x2="207.8" y2="375.35" stroke="#222222" stroke-width="0.75"/>
<line x1="86.6" y1="356.05" x2="88.1" y2="356.05" stroke="#222222" stroke-width="0.75"/>
<line x1="206.3" y1="356.05" x2="207.8" y2="356.05" stroke="#222222" stroke-width="0.75"/>
<line x1="86.6" y1="336.75" x2="88.1" y2="336.75" stroke="#222222" stroke-width="0.75"/>
<line x1="206.3" y1="336.75" x2="207.8" y2="336.75" stroke="#222222" stroke-width="0.75"/>
<line x1="86.6" y1="317.45" x2="88.1" y2="317.45" stroke="#222222" stroke-width="0.75"/>
<line x1="206.3" y1="317.45" x2="207.8" y2="317.45" stroke="#222222" stroke-width="0.75"/>
<line x1="86.6" y1="298.15" x2="88.1" y2="298.15" stroke="#222222" stroke-width="0.75"/>
<line x1="206.3" y1="298.15" x2="207.8" y2="298.15" stroke="#222222" stroke-width="0.75"/>
<rect x="236.6" y="288.5" width="121.2" height="135.1" fill="none" stroke="#222222" stroke-width="0.85"/>
<line x1="247.62" y1="421.2" x2="247.62" y2="425.7" stroke="#222222" stroke-width="0.75"/>
<line x1="247.62" y1="288.5" x2="247.62" y2="290.9" stroke="#222222" stroke-width="0.75"/>
<line x1="264.15" y1="421.2" x2="264.15" y2="425.7" stroke="#222222" stroke-width="0.75"/>
<line x1="264.15" y1="288.5" x2="264.15" y2="290.9" stroke="#222222" stroke-width="0.75"/>
<line x1="280.67" y1="421.2" x2="280.67" y2="425.7" stroke="#222222" stroke-width="0.75"/>
<line x1="280.67" y1="288.5" x2="280.67" y2="290.9" stroke="#222222" stroke-width="0.75"/>
<line x1="297.2" y1="421.2" x2="297.2" y2="425.7" stroke="#222222" stroke-width="0.75"/>
<line x1="297.2" y1="288.5" x2="297.2" y2="290.9" stroke="#222222" stroke-width="0.75"/>
<line x1="313.73" y1="421.2" x2="313.73" y2="425.7" stroke="#222222" stroke-width="0.75"/>
<line x1="313.73" y1="288.5" x2="313.73" y2="290.9" stroke="#222222" stroke-width="0.75"/>
<line x1="330.25" y1="421.2" x2="330.25" y2="425.7" stroke="#222222" stroke-width="0.75"/>
<line x1="330.25" y1="288.5" x2="330.25" y2="290.9" stroke="#222222" stroke-width="0.75"/>
<line x1="346.78" y1="421.2" x2="346.78" y2="425.7" stroke="#222222" stroke-width="0.75"/>
<line x1="346.78" y1="288.5" x2="346.78" y2="290.9" stroke="#222222" stroke-width="0.75"/>
<line x1="239.35" y1="422.1" x2="239.35" y2="423.6" stroke="#222222" stroke-width="0.75"/>
<line x1="239.35" y1="288.5" x2="239.35" y2="290" stroke="#222222" stroke-width="0.75"/>
<line x1="255.88" y1="422.1" x2="255.88" y2="423.6" stroke="#222222" stroke-width="0.75"/>
<line x1="255.88" y1="288.5" x2="255.88" y2="290" stroke="#222222" stroke-width="0.75"/>
<line x1="272.41" y1="422.1" x2="272.41" y2="423.6" stroke="#222222" stroke-width="0.75"/>
<line x1="272.41" y1="288.5" x2="272.41" y2="290" stroke="#222222" stroke-width="0.75"/>
<line x1="288.94" y1="422.1" x2="288.94" y2="423.6" stroke="#222222" stroke-width="0.75"/>
<line x1="288.94" y1="288.5" x2="288.94" y2="290" stroke="#222222" stroke-width="0.75"/>
<line x1="305.46" y1="422.1" x2="305.46" y2="423.6" stroke="#222222" stroke-width="0.75"/>
<line x1="305.46" y1="288.5" x2="305.46" y2="290" stroke="#222222" stroke-width="0.75"/>
<line x1="321.99" y1="422.1" x2="321.99" y2="423.6" stroke="#222222" stroke-width="0.75"/>
<line x1="321.99" y1="288.5" x2="321.99" y2="290" stroke="#222222" stroke-width="0.75"/>
<line x1="338.52" y1="422.1" x2="338.52" y2="423.6" stroke="#222222" stroke-width="0.75"/>
<line x1="338.52" y1="288.5" x2="338.52" y2="290" stroke="#222222" stroke-width="0.75"/>
<line x1="355.05" y1="422.1" x2="355.05" y2="423.6" stroke="#222222" stroke-width="0.75"/>
<line x1="355.05" y1="288.5" x2="355.05" y2="290" stroke="#222222" stroke-width="0.75"/>
<line x1="234.5" y1="423.6" x2="239" y2="423.6" stroke="#222222" stroke-width="0.75"/>
<line x1="355.4" y1="423.6" x2="357.8" y2="423.6" stroke="#222222" stroke-width="0.75"/>
<line x1="234.5" y1="404.3" x2="239" y2="404.3" stroke="#222222" stroke-width="0.75"/>
<line x1="355.4" y1="404.3" x2="357.8" y2="404.3" stroke="#222222" stroke-width="0.75"/>
<line x1="234.5" y1="385" x2="239" y2="385" stroke="#222222" stroke-width="0.75"/>
<line x1="355.4" y1="385" x2="357.8" y2="385" stroke="#222222" stroke-width="0.75"/>
<line x1="234.5" y1="365.7" x2="239" y2="365.7" stroke="#222222" stroke-width="0.75"/>
<line x1="355.4" y1="365.7" x2="357.8" y2="365.7" stroke="#222222" stroke-width="0.75"/>
<line x1="234.5" y1="346.4" x2="239" y2="346.4" stroke="#222222" stroke-width="0.75"/>
<line x1="355.4" y1="346.4" x2="357.8" y2="346.4" stroke="#222222" stroke-width="0.75"/>
<line x1="234.5" y1="327.1" x2="239" y2="327.1" stroke="#222222" stroke-width="0.75"/>
<line x1="355.4" y1="327.1" x2="357.8" y2="327.1" stroke="#222222" stroke-width="0.75"/>
<line x1="234.5" y1="307.8" x2="239" y2="307.8" stroke="#222222" stroke-width="0.75"/>
<line x1="355.4" y1="307.8" x2="357.8" y2="307.8" stroke="#222222" stroke-width="0.75"/>
<line x1="234.5" y1="288.5" x2="239" y2="288.5" stroke="#222222" stroke-width="0.75"/>
<line x1="355.4" y1="288.5" x2="357.8" y2="288.5" stroke="#222222" stroke-width="0.75"/>
<line x1="236.6" y1="413.95" x2="238.1" y2="413.95" stroke="#222222" stroke-width="0.75"/>
<line x1="356.3" y1="413.95" x2="357.8" y2="413.95" stroke="#222222" stroke-width="0.75"/>
<line x1="236.6" y1="394.65" x2="238.1" y2="394.65" stroke="#222222" stroke-width="0.75"/>
<line x1="356.3" y1="394.65" x2="357.8" y2="394.65" stroke="#222222" stroke-width="0.75"/>
<line x1="236.6" y1="375.35" x2="238.1" y2="375.35" stroke="#222222" stroke-width="0.75"/>
<line x1="356.3" y1="375.35" x2="357.8" y2="375.35" stroke="#222222" stroke-width="0.75"/>
<line x1="236.6" y1="356.05" x2="238.1" y2="356.05" stroke="#222222" stroke-width="0.75"/>
<line x1="356.3" y1="356.05" x2="357.8" y2="356.05" stroke="#222222" stroke-width="0.75"/>
<line x1="236.6" y1="336.75" x2="238.1" y2="336.75" stroke="#222222" stroke-width="0.75"/>
<line x1="356.3" y1="336.75" x2="357.8" y2="336.75" stroke="#222222" stroke-width="0.75"/>
<line x1="236.6" y1="317.45" x2="238.1" y2="317.45" stroke="#222222" stroke-width="0.75"/>
<line x1="356.3" y1="317.45" x2="357.8" y2="317.45" stroke="#222222" stroke-width="0.75"/>
<line x1="236.6" y1="298.15" x2="238.1" y2="298.15" stroke="#222222" stroke-width="0.75"/>
<line x1="356.3" y1="298.15" x2="357.8" y2="298.15" stroke="#222222" stroke-width="0.75"/>
<rect x="386.7" y="288.5" width="121.2" height="135.1" fill="none" stroke="#222222" stroke-width="0.85"/>
<line x1="397.72" y1="421.2" x2="397.72" y2="425.7" stroke="#222222" stroke-width="0.75"/>
<line x1="397.72" y1="288.5" x2="397.72" y2="290.9" stroke="#222222" stroke-width="0.75"/>
<line x1="414.25" y1="421.2" x2="414.25" y2="425.7" stroke="#222222" stroke-width="0.75"/>
<line x1="414.25" y1="288.5" x2="414.25" y2="290.9" stroke="#222222" stroke-width="0.75"/>
<line x1="430.77" y1="421.2" x2="430.77" y2="425.7" stroke="#222222" stroke-width="0.75"/>
<line x1="430.77" y1="288.5" x2="430.77" y2="290.9" stroke="#222222" stroke-width="0.75"/>
<line x1="447.3" y1="421.2" x2="447.3" y2="425.7" stroke="#222222" stroke-width="0.75"/>
<line x1="447.3" y1="288.5" x2="447.3" y2="290.9" stroke="#222222" stroke-width="0.75"/>
<line x1="463.83" y1="421.2" x2="463.83" y2="425.7" stroke="#222222" stroke-width="0.75"/>
<line x1="463.83" y1="288.5" x2="463.83" y2="290.9" stroke="#222222" stroke-width="0.75"/>
<line x1="480.35" y1="421.2" x2="480.35" y2="425.7" stroke="#222222" stroke-width="0.75"/>
<line x1="480.35" y1="288.5" x2="480.35" y2="290.9" stroke="#222222" stroke-width="0.75"/>
<line x1="496.88" y1="421.2" x2="496.88" y2="425.7" stroke="#222222" stroke-width="0.75"/>
<line x1="496.88" y1="288.5" x2="496.88" y2="290.9" stroke="#222222" stroke-width="0.75"/>
<line x1="389.45" y1="422.1" x2="389.45" y2="423.6" stroke="#222222" stroke-width="0.75"/>
<line x1="389.45" y1="288.5" x2="389.45" y2="290" stroke="#222222" stroke-width="0.75"/>
<line x1="405.98" y1="422.1" x2="405.98" y2="423.6" stroke="#222222" stroke-width="0.75"/>
<line x1="405.98" y1="288.5" x2="405.98" y2="290" stroke="#222222" stroke-width="0.75"/>
<line x1="422.51" y1="422.1" x2="422.51" y2="423.6" stroke="#222222" stroke-width="0.75"/>
<line x1="422.51" y1="288.5" x2="422.51" y2="290" stroke="#222222" stroke-width="0.75"/>
<line x1="439.04" y1="422.1" x2="439.04" y2="423.6" stroke="#222222" stroke-width="0.75"/>
<line x1="439.04" y1="288.5" x2="439.04" y2="290" stroke="#222222" stroke-width="0.75"/>
<line x1="455.56" y1="422.1" x2="455.56" y2="423.6" stroke="#222222" stroke-width="0.75"/>
<line x1="455.56" y1="288.5" x2="455.56" y2="290" stroke="#222222" stroke-width="0.75"/>
<line x1="472.09" y1="422.1" x2="472.09" y2="423.6" stroke="#222222" stroke-width="0.75"/>
<line x1="472.09" y1="288.5" x2="472.09" y2="290" stroke="#222222" stroke-width="0.75"/>
<line x1="488.62" y1="422.1" x2="488.62" y2="423.6" stroke="#222222" stroke-width="0.75"/>
<line x1="488.62" y1="288.5" x2="488.62" y2="290" stroke="#222222" stroke-width="0.75"/>
<line x1="505.15" y1="422.1" x2="505.15" y2="423.6" stroke="#222222" stroke-width="0.75"/>
<line x1="505.15" y1="288.5" x2="505.15" y2="290" stroke="#222222" stroke-width="0.75"/>
<line x1="384.6" y1="423.6" x2="389.1" y2="423.6" stroke="#222222" stroke-width="0.75"/>
<line x1="505.5" y1="423.6" x2="507.9" y2="423.6" stroke="#222222" stroke-width="0.75"/>
<line x1="384.6" y1="404.3" x2="389.1" y2="404.3" stroke="#222222" stroke-width="0.75"/>
<line x1="505.5" y1="404.3" x2="507.9" y2="404.3" stroke="#222222" stroke-width="0.75"/>
<line x1="384.6" y1="385" x2="389.1" y2="385" stroke="#222222" stroke-width="0.75"/>
<line x1="505.5" y1="385" x2="507.9" y2="385" stroke="#222222" stroke-width="0.75"/>
<line x1="384.6" y1="365.7" x2="389.1" y2="365.7" stroke="#222222" stroke-width="0.75"/>
<line x1="505.5" y1="365.7" x2="507.9" y2="365.7" stroke="#222222" stroke-width="0.75"/>
<line x1="384.6" y1="346.4" x2="389.1" y2="346.4" stroke="#222222" stroke-width="0.75"/>
<line x1="505.5" y1="346.4" x2="507.9" y2="346.4" stroke="#222222" stroke-width="0.75"/>
<line x1="384.6" y1="327.1" x2="389.1" y2="327.1" stroke="#222222" stroke-width="0.75"/>
<line x1="505.5" y1="327.1" x2="507.9" y2="327.1" stroke="#222222" stroke-width="0.75"/>
<line x1="384.6" y1="307.8" x2="389.1" y2="307.8" stroke="#222222" stroke-width="0.75"/>
<line x1="505.5" y1="307.8" x2="507.9" y2="307.8" stroke="#222222" stroke-width="0.75"/>
<line x1="384.6" y1="288.5" x2="389.1" y2="288.5" stroke="#222222" stroke-width="0.75"/>
<line x1="505.5" y1="288.5" x2="507.9" y2="288.5" stroke="#222222" stroke-width="0.75"/>
<line x1="386.7" y1="413.95" x2="388.2" y2="413.95" stroke="#222222" stroke-width="0.75"/>
<line x1="506.4" y1="413.95" x2="507.9" y2="413.95" stroke="#222222" stroke-width="0.75"/>
<line x1="386.7" y1="394.65" x2="388.2" y2="394.65" stroke="#222222" stroke-width="0.75"/>
<line x1="506.4" y1="394.65" x2="507.9" y2="394.65" stroke="#222222" stroke-width="0.75"/>
<line x1="386.7" y1="375.35" x2="388.2" y2="375.35" stroke="#222222" stroke-width="0.75"/>
<line x1="506.4" y1="375.35" x2="507.9" y2="375.35" stroke="#222222" stroke-width="0.75"/>
<line x1="386.7" y1="356.05" x2="388.2" y2="356.05" stroke="#222222" stroke-width="0.75"/>
<line x1="506.4" y1="356.05" x2="507.9" y2="356.05" stroke="#222222" stroke-width="0.75"/>
<line x1="386.7" y1="336.75" x2="388.2" y2="336.75" stroke="#222222" stroke-width="0.75"/>
<line x1="506.4" y1="336.75" x2="507.9" y2="336.75" stroke="#222222" stroke-width="0.75"/>
<line x1="386.7" y1="317.45" x2="388.2" y2="317.45" stroke="#222222" stroke-width="0.75"/>
<line x1="506.4" y1="317.45" x2="507.9" y2="317.45" stroke="#222222" stroke-width="0.75"/>
<line x1="386.7" y1="298.15" x2="388.2" y2="298.15" stroke="#222222" stroke-width="0.75"/>
<line x1="506.4" y1="298.15" x2="507.9" y2="298.15" stroke="#222222" stroke-width="0.75"/>
<rect x="86.6" y="442.6" width="121.2" height="134.7" fill="none" stroke="#222222" stroke-width="0.85"/>
<line x1="86.6" y1="574.9" x2="86.6" y2="579.4" stroke="#222222" stroke-width="0.75"/>
<line x1="86.6" y1="442.6" x2="86.6" y2="445" stroke="#222222" stroke-width="0.75"/>
<line x1="106.8" y1="574.9" x2="106.8" y2="579.4" stroke="#222222" stroke-width="0.75"/>
<line x1="106.8" y1="442.6" x2="106.8" y2="445" stroke="#222222" stroke-width="0.75"/>
<line x1="127" y1="574.9" x2="127" y2="579.4" stroke="#222222" stroke-width="0.75"/>
<line x1="127" y1="442.6" x2="127" y2="445" stroke="#222222" stroke-width="0.75"/>
<line x1="147.2" y1="574.9" x2="147.2" y2="579.4" stroke="#222222" stroke-width="0.75"/>
<line x1="147.2" y1="442.6" x2="147.2" y2="445" stroke="#222222" stroke-width="0.75"/>
<line x1="167.4" y1="574.9" x2="167.4" y2="579.4" stroke="#222222" stroke-width="0.75"/>
<line x1="167.4" y1="442.6" x2="167.4" y2="445" stroke="#222222" stroke-width="0.75"/>
<line x1="187.6" y1="574.9" x2="187.6" y2="579.4" stroke="#222222" stroke-width="0.75"/>
<line x1="187.6" y1="442.6" x2="187.6" y2="445" stroke="#222222" stroke-width="0.75"/>
<line x1="207.8" y1="574.9" x2="207.8" y2="579.4" stroke="#222222" stroke-width="0.75"/>
<line x1="207.8" y1="442.6" x2="207.8" y2="445" stroke="#222222" stroke-width="0.75"/>
<line x1="96.7" y1="575.8" x2="96.7" y2="577.3" stroke="#222222" stroke-width="0.75"/>
<line x1="96.7" y1="442.6" x2="96.7" y2="444.1" stroke="#222222" stroke-width="0.75"/>
<line x1="116.9" y1="575.8" x2="116.9" y2="577.3" stroke="#222222" stroke-width="0.75"/>
<line x1="116.9" y1="442.6" x2="116.9" y2="444.1" stroke="#222222" stroke-width="0.75"/>
<line x1="137.1" y1="575.8" x2="137.1" y2="577.3" stroke="#222222" stroke-width="0.75"/>
<line x1="137.1" y1="442.6" x2="137.1" y2="444.1" stroke="#222222" stroke-width="0.75"/>
<line x1="157.3" y1="575.8" x2="157.3" y2="577.3" stroke="#222222" stroke-width="0.75"/>
<line x1="157.3" y1="442.6" x2="157.3" y2="444.1" stroke="#222222" stroke-width="0.75"/>
<line x1="177.5" y1="575.8" x2="177.5" y2="577.3" stroke="#222222" stroke-width="0.75"/>
<line x1="177.5" y1="442.6" x2="177.5" y2="444.1" stroke="#222222" stroke-width="0.75"/>
<line x1="197.7" y1="575.8" x2="197.7" y2="577.3" stroke="#222222" stroke-width="0.75"/>
<line x1="197.7" y1="442.6" x2="197.7" y2="444.1" stroke="#222222" stroke-width="0.75"/>
<line x1="84.5" y1="577.3" x2="89" y2="577.3" stroke="#222222" stroke-width="0.75"/>
<line x1="205.4" y1="577.3" x2="207.8" y2="577.3" stroke="#222222" stroke-width="0.75"/>
<line x1="84.5" y1="550.36" x2="89" y2="550.36" stroke="#222222" stroke-width="0.75"/>
<line x1="205.4" y1="550.36" x2="207.8" y2="550.36" stroke="#222222" stroke-width="0.75"/>
<line x1="84.5" y1="523.42" x2="89" y2="523.42" stroke="#222222" stroke-width="0.75"/>
<line x1="205.4" y1="523.42" x2="207.8" y2="523.42" stroke="#222222" stroke-width="0.75"/>
<line x1="84.5" y1="496.48" x2="89" y2="496.48" stroke="#222222" stroke-width="0.75"/>
<line x1="205.4" y1="496.48" x2="207.8" y2="496.48" stroke="#222222" stroke-width="0.75"/>
<line x1="84.5" y1="469.54" x2="89" y2="469.54" stroke="#222222" stroke-width="0.75"/>
<line x1="205.4" y1="469.54" x2="207.8" y2="469.54" stroke="#222222" stroke-width="0.75"/>
<line x1="84.5" y1="442.6" x2="89" y2="442.6" stroke="#222222" stroke-width="0.75"/>
<line x1="205.4" y1="442.6" x2="207.8" y2="442.6" stroke="#222222" stroke-width="0.75"/>
<line x1="86.6" y1="563.83" x2="88.1" y2="563.83" stroke="#222222" stroke-width="0.75"/>
<line x1="206.3" y1="563.83" x2="207.8" y2="563.83" stroke="#222222" stroke-width="0.75"/>
<line x1="86.6" y1="536.89" x2="88.1" y2="536.89" stroke="#222222" stroke-width="0.75"/>
<line x1="206.3" y1="536.89" x2="207.8" y2="536.89" stroke="#222222" stroke-width="0.75"/>
<line x1="86.6" y1="509.95" x2="88.1" y2="509.95" stroke="#222222" stroke-width="0.75"/>
<line x1="206.3" y1="509.95" x2="207.8" y2="509.95" stroke="#222222" stroke-width="0.75"/>
<line x1="86.6" y1="483.01" x2="88.1" y2="483.01" stroke="#222222" stroke-width="0.75"/>
<line x1="206.3" y1="483.01" x2="207.8" y2="483.01" stroke="#222222" stroke-width="0.75"/>
<line x1="86.6" y1="456.07" x2="88.1" y2="456.07" stroke="#222222" stroke-width="0.75"/>
<line x1="206.3" y1="456.07" x2="207.8" y2="456.07" stroke="#222222" stroke-width="0.75"/>
<rect x="236.6" y="442.6" width="121.2" height="134.7" fill="none" stroke="#222222" stroke-width="0.85"/>
<line x1="247.62" y1="574.9" x2="247.62" y2="579.4" stroke="#222222" stroke-width="0.75"/>
<line x1="247.62" y1="442.6" x2="247.62" y2="445" stroke="#222222" stroke-width="0.75"/>
<line x1="264.15" y1="574.9" x2="264.15" y2="579.4" stroke="#222222" stroke-width="0.75"/>
<line x1="264.15" y1="442.6" x2="264.15" y2="445" stroke="#222222" stroke-width="0.75"/>
<line x1="280.67" y1="574.9" x2="280.67" y2="579.4" stroke="#222222" stroke-width="0.75"/>
<line x1="280.67" y1="442.6" x2="280.67" y2="445" stroke="#222222" stroke-width="0.75"/>
<line x1="297.2" y1="574.9" x2="297.2" y2="579.4" stroke="#222222" stroke-width="0.75"/>
<line x1="297.2" y1="442.6" x2="297.2" y2="445" stroke="#222222" stroke-width="0.75"/>
<line x1="313.73" y1="574.9" x2="313.73" y2="579.4" stroke="#222222" stroke-width="0.75"/>
<line x1="313.73" y1="442.6" x2="313.73" y2="445" stroke="#222222" stroke-width="0.75"/>
<line x1="330.25" y1="574.9" x2="330.25" y2="579.4" stroke="#222222" stroke-width="0.75"/>
<line x1="330.25" y1="442.6" x2="330.25" y2="445" stroke="#222222" stroke-width="0.75"/>
<line x1="346.78" y1="574.9" x2="346.78" y2="579.4" stroke="#222222" stroke-width="0.75"/>
<line x1="346.78" y1="442.6" x2="346.78" y2="445" stroke="#222222" stroke-width="0.75"/>
<line x1="239.35" y1="575.8" x2="239.35" y2="577.3" stroke="#222222" stroke-width="0.75"/>
<line x1="239.35" y1="442.6" x2="239.35" y2="444.1" stroke="#222222" stroke-width="0.75"/>
<line x1="255.88" y1="575.8" x2="255.88" y2="577.3" stroke="#222222" stroke-width="0.75"/>
<line x1="255.88" y1="442.6" x2="255.88" y2="444.1" stroke="#222222" stroke-width="0.75"/>
<line x1="272.41" y1="575.8" x2="272.41" y2="577.3" stroke="#222222" stroke-width="0.75"/>
<line x1="272.41" y1="442.6" x2="272.41" y2="444.1" stroke="#222222" stroke-width="0.75"/>
<line x1="288.94" y1="575.8" x2="288.94" y2="577.3" stroke="#222222" stroke-width="0.75"/>
<line x1="288.94" y1="442.6" x2="288.94" y2="444.1" stroke="#222222" stroke-width="0.75"/>
<line x1="305.46" y1="575.8" x2="305.46" y2="577.3" stroke="#222222" stroke-width="0.75"/>
<line x1="305.46" y1="442.6" x2="305.46" y2="444.1" stroke="#222222" stroke-width="0.75"/>
<line x1="321.99" y1="575.8" x2="321.99" y2="577.3" stroke="#222222" stroke-width="0.75"/>
<line x1="321.99" y1="442.6" x2="321.99" y2="444.1" stroke="#222222" stroke-width="0.75"/>
<line x1="338.52" y1="575.8" x2="338.52" y2="577.3" stroke="#222222" stroke-width="0.75"/>
<line x1="338.52" y1="442.6" x2="338.52" y2="444.1" stroke="#222222" stroke-width="0.75"/>
<line x1="355.05" y1="575.8" x2="355.05" y2="577.3" stroke="#222222" stroke-width="0.75"/>
<line x1="355.05" y1="442.6" x2="355.05" y2="444.1" stroke="#222222" stroke-width="0.75"/>
<line x1="234.5" y1="577.3" x2="239" y2="577.3" stroke="#222222" stroke-width="0.75"/>
<line x1="355.4" y1="577.3" x2="357.8" y2="577.3" stroke="#222222" stroke-width="0.75"/>
<line x1="234.5" y1="550.36" x2="239" y2="550.36" stroke="#222222" stroke-width="0.75"/>
<line x1="355.4" y1="550.36" x2="357.8" y2="550.36" stroke="#222222" stroke-width="0.75"/>
<line x1="234.5" y1="523.42" x2="239" y2="523.42" stroke="#222222" stroke-width="0.75"/>
<line x1="355.4" y1="523.42" x2="357.8" y2="523.42" stroke="#222222" stroke-width="0.75"/>
<line x1="234.5" y1="496.48" x2="239" y2="496.48" stroke="#222222" stroke-width="0.75"/>
<line x1="355.4" y1="496.48" x2="357.8" y2="496.48" stroke="#222222" stroke-width="0.75"/>
<line x1="234.5" y1="469.54" x2="239" y2="469.54" stroke="#222222" stroke-width="0.75"/>
<line x1="355.4" y1="469.54" x2="357.8" y2="469.54" stroke="#222222" stroke-width="0.75"/>
<line x1="234.5" y1="442.6" x2="239" y2="442.6" stroke="#222222" stroke-width="0.75"/>
<line x1="355.4" y1="442.6" x2="357.8" y2="442.6" stroke="#222222" stroke-width="0.75"/>
<line x1="236.6" y1="563.83" x2="238.1" y2="563.83" stroke="#222222" stroke-width="0.75"/>
<line x1="356.3" y1="563.83" x2="357.8" y2="563.83" stroke="#222222" stroke-width="0.75"/>
<line x1="236.6" y1="536.89" x2="238.1" y2="536.89" stroke="#222222" stroke-width="0.75"/>
<line x1="356.3" y1="536.89" x2="357.8" y2="536.89" stroke="#222222" stroke-width="0.75"/>
<line x1="236.6" y1="509.95" x2="238.1" y2="509.95" stroke="#222222" stroke-width="0.75"/>
<line x1="356.3" y1="509.95" x2="357.8" y2="509.95" stroke="#222222" stroke-width="0.75"/>
<line x1="236.6" y1="483.01" x2="238.1" y2="483.01" stroke="#222222" stroke-width="0.75"/>
<line x1="356.3" y1="483.01" x2="357.8" y2="483.01" stroke="#222222" stroke-width="0.75"/>
<line x1="236.6" y1="456.07" x2="238.1" y2="456.07" stroke="#222222" stroke-width="0.75"/>
<line x1="356.3" y1="456.07" x2="357.8" y2="456.07" stroke="#222222" stroke-width="0.75"/>
<rect x="386.7" y="442.6" width="121.2" height="134.7" fill="none" stroke="#222222" stroke-width="0.85"/>
<line x1="397.72" y1="574.9" x2="397.72" y2="579.4" stroke="#222222" stroke-width="0.75"/>
<line x1="397.72" y1="442.6" x2="397.72" y2="445" stroke="#222222" stroke-width="0.75"/>
<line x1="414.25" y1="574.9" x2="414.25" y2="579.4" stroke="#222222" stroke-width="0.75"/>
<line x1="414.25" y1="442.6" x2="414.25" y2="445" stroke="#222222" stroke-width="0.75"/>
<line x1="430.77" y1="574.9" x2="430.77" y2="579.4" stroke="#222222" stroke-width="0.75"/>
<line x1="430.77" y1="442.6" x2="430.77" y2="445" stroke="#222222" stroke-width="0.75"/>
<line x1="447.3" y1="574.9" x2="447.3" y2="579.4" stroke="#222222" stroke-width="0.75"/>
<line x1="447.3" y1="442.6" x2="447.3" y2="445" stroke="#222222" stroke-width="0.75"/>
<line x1="463.83" y1="574.9" x2="463.83" y2="579.4" stroke="#222222" stroke-width="0.75"/>
<line x1="463.83" y1="442.6" x2="463.83" y2="445" stroke="#222222" stroke-width="0.75"/>
<line x1="480.35" y1="574.9" x2="480.35" y2="579.4" stroke="#222222" stroke-width="0.75"/>
<line x1="480.35" y1="442.6" x2="480.35" y2="445" stroke="#222222" stroke-width="0.75"/>
<line x1="496.88" y1="574.9" x2="496.88" y2="579.4" stroke="#222222" stroke-width="0.75"/>
<line x1="496.88" y1="442.6" x2="496.88" y2="445" stroke="#222222" stroke-width="0.75"/>
<line x1="389.45" y1="575.8" x2="389.45" y2="577.3" stroke="#222222" stroke-width="0.75"/>
<line x1="389.45" y1="442.6" x2="389.45" y2="444.1" stroke="#222222" stroke-width="0.75"/>
<line x1="405.98" y1="575.8" x2="405.98" y2="577.3" stroke="#222222" stroke-width="0.75"/>
<line x1="405.98" y1="442.6" x2="405.98" y2="444.1" stroke="#222222" stroke-width="0.75"/>
<line x1="422.51" y1="575.8" x2="422.51" y2="577.3" stroke="#222222" stroke-width="0.75"/>
<line x1="422.51" y1="442.6" x2="422.51" y2="444.1" stroke="#222222" stroke-width="0.75"/>
<line x1="439.04" y1="575.8" x2="439.04" y2="577.3" stroke="#222222" stroke-width="0.75"/>
<line x1="439.04" y1="442.6" x2="439.04" y2="444.1" stroke="#222222" stroke-width="0.75"/>
<line x1="455.56" y1="575.8" x2="455.56" y2="577.3" stroke="#222222" stroke-width="0.75"/>
<line x1="455.56" y1="442.6" x2="455.56" y2="444.1" stroke="#222222" stroke-width="0.75"/>
<line x1="472.09" y1="575.8" x2="472.09" y2="577.3" stroke="#222222" stroke-width="0.75"/>
<line x1="472.09" y1="442.6" x2="472.09" y2="444.1" stroke="#222222" stroke-width="0.75"/>
<line x1="488.62" y1="575.8" x2="488.62" y2="577.3" stroke="#222222" stroke-width="0.75"/>
<line x1="488.62" y1="442.6" x2="488.62" y2="444.1" stroke="#222222" stroke-width="0.75"/>
<line x1="505.15" y1="575.8" x2="505.15" y2="577.3" stroke="#222222" stroke-width="0.75"/>
<line x1="505.15" y1="442.6" x2="505.15" y2="444.1" stroke="#222222" stroke-width="0.75"/>
<line x1="384.6" y1="577.3" x2="389.1" y2="577.3" stroke="#222222" stroke-width="0.75"/>
<line x1="505.5" y1="577.3" x2="507.9" y2="577.3" stroke="#222222" stroke-width="0.75"/>
<line x1="384.6" y1="550.36" x2="389.1" y2="550.36" stroke="#222222" stroke-width="0.75"/>
<line x1="505.5" y1="550.36" x2="507.9" y2="550.36" stroke="#222222" stroke-width="0.75"/>
<line x1="384.6" y1="523.42" x2="389.1" y2="523.42" stroke="#222222" stroke-width="0.75"/>
<line x1="505.5" y1="523.42" x2="507.9" y2="523.42" stroke="#222222" stroke-width="0.75"/>
<line x1="384.6" y1="496.48" x2="389.1" y2="496.48" stroke="#222222" stroke-width="0.75"/>
<line x1="505.5" y1="496.48" x2="507.9" y2="496.48" stroke="#222222" stroke-width="0.75"/>
<line x1="384.6" y1="469.54" x2="389.1" y2="469.54" stroke="#222222" stroke-width="0.75"/>
<line x1="505.5" y1="469.54" x2="507.9" y2="469.54" stroke="#222222" stroke-width="0.75"/>
<line x1="384.6" y1="442.6" x2="389.1" y2="442.6" stroke="#222222" stroke-width="0.75"/>
<line x1="505.5" y1="442.6" x2="507.9" y2="442.6" stroke="#222222" stroke-width="0.75"/>
<line x1="386.7" y1="563.83" x2="388.2" y2="563.83" stroke="#222222" stroke-width="0.75"/>
<line x1="506.4" y1="563.83" x2="507.9" y2="563.83" stroke="#222222" stroke-width="0.75"/>
<line x1="386.7" y1="536.89" x2="388.2" y2="536.89" stroke="#222222" stroke-width="0.75"/>
<line x1="506.4" y1="536.89" x2="507.9" y2="536.89" stroke="#222222" stroke-width="0.75"/>
<line x1="386.7" y1="509.95" x2="388.2" y2="509.95" stroke="#222222" stroke-width="0.75"/>
<line x1="506.4" y1="509.95" x2="507.9" y2="509.95" stroke="#222222" stroke-width="0.75"/>
<line x1="386.7" y1="483.01" x2="388.2" y2="483.01" stroke="#222222" stroke-width="0.75"/>
<line x1="506.4" y1="483.01" x2="507.9" y2="483.01" stroke="#222222" stroke-width="0.75"/>
<line x1="386.7" y1="456.07" x2="388.2" y2="456.07" stroke="#222222" stroke-width="0.75"/>
<line x1="506.4" y1="456.07" x2="507.9" y2="456.07" stroke="#222222" stroke-width="0.75"/>
</g>
<text x="83" y="426.8" font-size="11.7" text-anchor="end" font-family="Liberation Sans, sans-serif" fill="#000" stroke="#000" stroke-width="0.15" >0</text>
<text x="83" y="407.5" font-size="11.7" text-anchor="end" font-family="Liberation Sans, sans-serif" fill="#000" stroke="#000" stroke-width="0.15" >1</text>
<text x="83" y="388.2" font-size="11.7" text-anchor="end" font-family="Liberation Sans, sans-serif" fill="#000" stroke="#000" stroke-width="0.15" >2</text>
<text x="83" y="368.9" font-size="11.7" text-anchor="end" font-family="Liberation Sans, sans-serif" fill="#000" stroke="#000" stroke-width="0.15" >3</text>
<text x="83" y="349.6" font-size="11.7" text-anchor="end" font-family="Liberation Sans, sans-serif" fill="#000" stroke="#000" stroke-width="0.15" >4</text>
<text x="83" y="330.3" font-size="11.7" text-anchor="end" font-family="Liberation Sans, sans-serif" fill="#000" stroke="#000" stroke-width="0.15" >5</text>
<text x="83" y="311" font-size="11.7" text-anchor="end" font-family="Liberation Sans, sans-serif" fill="#000" stroke="#000" stroke-width="0.15" >6</text>
<text x="83" y="291.7" font-size="11.7" text-anchor="end" font-family="Liberation Sans, sans-serif" fill="#000" stroke="#000" stroke-width="0.15" >7</text>
<text x="83" y="580.5" font-size="11.7" text-anchor="end" font-family="Liberation Sans, sans-serif" fill="#000" stroke="#000" stroke-width="0.15" >0.4</text>
<text x="83" y="553.56" font-size="11.7" text-anchor="end" font-family="Liberation Sans, sans-serif" fill="#000" stroke="#000" stroke-width="0.15" >0.8</text>
<text x="83" y="526.62" font-size="11.7" text-anchor="end" font-family="Liberation Sans, sans-serif" fill="#000" stroke="#000" stroke-width="0.15" >1.2</text>
<text x="83" y="499.68" font-size="11.7" text-anchor="end" font-family="Liberation Sans, sans-serif" fill="#000" stroke="#000" stroke-width="0.15" >1.6</text>
<text x="83" y="472.74" font-size="11.7" text-anchor="end" font-family="Liberation Sans, sans-serif" fill="#000" stroke="#000" stroke-width="0.15" >2.0</text>
<text x="83" y="445.8" font-size="11.7" text-anchor="end" font-family="Liberation Sans, sans-serif" fill="#000" stroke="#000" stroke-width="0.15" >2.4</text>
<text x="86.1" y="590.1" font-size="11.7" text-anchor="middle" font-family="Liberation Sans, sans-serif" fill="#000" stroke="#000" stroke-width="0.15" >-6</text>
<text x="106.3" y="590.1" font-size="11.7" text-anchor="middle" font-family="Liberation Sans, sans-serif" fill="#000" stroke="#000" stroke-width="0.15" >-4</text>
<text x="126.5" y="590.1" font-size="11.7" text-anchor="middle" font-family="Liberation Sans, sans-serif" fill="#000" stroke="#000" stroke-width="0.15" >-2</text>
<text x="147.2" y="590.1" font-size="11.7" text-anchor="middle" font-family="Liberation Sans, sans-serif" fill="#000" stroke="#000" stroke-width="0.15" >0</text>
<text x="167.4" y="590.1" font-size="11.7" text-anchor="middle" font-family="Liberation Sans, sans-serif" fill="#000" stroke="#000" stroke-width="0.15" >2</text>
<text x="187.6" y="590.1" font-size="11.7" text-anchor="middle" font-family="Liberation Sans, sans-serif" fill="#000" stroke="#000" stroke-width="0.15" >4</text>
<text x="207.8" y="590.1" font-size="11.7" text-anchor="middle" font-family="Liberation Sans, sans-serif" fill="#000" stroke="#000" stroke-width="0.15" >6</text>
<text x="247.12" y="590.1" font-size="11.7" text-anchor="middle" font-family="Liberation Sans, sans-serif" fill="#000" stroke="#000" stroke-width="0.15" >-9</text>
<text x="263.65" y="590.1" font-size="11.7" text-anchor="middle" font-family="Liberation Sans, sans-serif" fill="#000" stroke="#000" stroke-width="0.15" >-6</text>
<text x="280.17" y="590.1" font-size="11.7" text-anchor="middle" font-family="Liberation Sans, sans-serif" fill="#000" stroke="#000" stroke-width="0.15" >-3</text>
<text x="297.2" y="590.1" font-size="11.7" text-anchor="middle" font-family="Liberation Sans, sans-serif" fill="#000" stroke="#000" stroke-width="0.15" >0</text>
<text x="313.73" y="590.1" font-size="11.7" text-anchor="middle" font-family="Liberation Sans, sans-serif" fill="#000" stroke="#000" stroke-width="0.15" >3</text>
<text x="330.25" y="590.1" font-size="11.7" text-anchor="middle" font-family="Liberation Sans, sans-serif" fill="#000" stroke="#000" stroke-width="0.15" >6</text>
<text x="346.78" y="590.1" font-size="11.7" text-anchor="middle" font-family="Liberation Sans, sans-serif" fill="#000" stroke="#000" stroke-width="0.15" >9</text>
<text x="397.22" y="590.1" font-size="11.7" text-anchor="middle" font-family="Liberation Sans, sans-serif" fill="#000" stroke="#000" stroke-width="0.15" >-9</text>
<text x="413.75" y="590.1" font-size="11.7" text-anchor="middle" font-family="Liberation Sans, sans-serif" fill="#000" stroke="#000" stroke-width="0.15" >-6</text>
<text x="430.27" y="590.1" font-size="11.7" text-anchor="middle" font-family="Liberation Sans, sans-serif" fill="#000" stroke="#000" stroke-width="0.15" >-3</text>
<text x="447.3" y="590.1" font-size="11.7" text-anchor="middle" font-family="Liberation Sans, sans-serif" fill="#000" stroke="#000" stroke-width="0.15" >0</text>
<text x="463.83" y="590.1" font-size="11.7" text-anchor="middle" font-family="Liberation Sans, sans-serif" fill="#000" stroke="#000" stroke-width="0.15" >3</text>
<text x="480.35" y="590.1" font-size="11.7" text-anchor="middle" font-family="Liberation Sans, sans-serif" fill="#000" stroke="#000" stroke-width="0.15" >6</text>
<text x="496.88" y="590.1" font-size="11.7" text-anchor="middle" font-family="Liberation Sans, sans-serif" fill="#000" stroke="#000" stroke-width="0.15" >9</text>
<text x="191.5" y="303.8" font-size="15.5" text-anchor="middle" font-family="Liberation Sans, sans-serif" fill="#ff0000" stroke="#ff0000" stroke-width="0.15" >(a)</text>
<text x="341.5" y="303.8" font-size="15.5" text-anchor="middle" font-family="Liberation Sans, sans-serif" fill="#ff0000" stroke="#ff0000" stroke-width="0.15" >(b)</text>
<text x="491.6" y="303.8" font-size="15.5" text-anchor="middle" font-family="Liberation Sans, sans-serif" fill="#ff0000" stroke="#ff0000" stroke-width="0.15" >(c)</text>
<text x="191.5" y="458.9" font-size="15.5" text-anchor="middle" font-family="Liberation Sans, sans-serif" fill="#ff0000" stroke="#ff0000" stroke-width="0.15" >(e)</text>
<text x="341.5" y="458.9" font-size="15.5" text-anchor="middle" font-family="Liberation Sans, sans-serif" fill="#ff0000" stroke="#ff0000" stroke-width="0.15" >(e)</text>
<text x="491.6" y="458.9" font-size="15.5" text-anchor="middle" font-family="Liberation Sans, sans-serif" fill="#ff0000" stroke="#ff0000" stroke-width="0.15" >(f)</text>
<text transform="translate(158.2 416) scale(1 1.14)" font-size="13.4" font-family="Liberation Serif, serif" fill="#ff0000" stroke="#ff0000" stroke-width="0.1">ε = 0.0</text>
<text transform="translate(297.4 415.8) scale(1 1.14)" font-size="13.4" font-family="Liberation Serif, serif" fill="#ff0000" stroke="#ff0000" stroke-width="0.1">ε = 0.003</text>
<text transform="translate(447.8 415.8) scale(1 1.14)" font-size="13.4" font-family="Liberation Serif, serif" fill="#ff0000" stroke="#ff0000" stroke-width="0.1">ε = 0.005</text>
<text transform="translate(90.5 569.8) scale(1 1.14)" font-size="13.4" font-family="Liberation Serif, serif" fill="#ff0000" stroke="#ff0000" stroke-width="0.1">ε = 0.0</text>
<text transform="translate(240 569.8) scale(1 1.14)" font-size="13.4" font-family="Liberation Serif, serif" fill="#ff0000" stroke="#ff0000" stroke-width="0.1">ε = 0.003</text>
<text transform="translate(390.6 569.8) scale(1 1.14)" font-size="13.4" font-family="Liberation Serif, serif" fill="#ff0000" stroke="#ff0000" stroke-width="0.1">ε = 0.005</text>
<line x1="393.9" y1="317" x2="410.6" y2="317" stroke="#ff0000" stroke-width="1.5"/>
<text x="412.5" y="319.2" font-size="7.5" text-anchor="start" font-family="Liberation Sans, sans-serif" fill="#000" stroke="#000" stroke-width="0.2" >p</text>
<path d="M416.6 323.2 H422.2 M419.4 323.2 V319" stroke="#000" stroke-width="0.7" fill="none"/>
<text x="424.3" y="319.4" font-size="7" text-anchor="start" font-family="Liberation Sans, sans-serif" fill="#000" stroke="#000" stroke-width="0.25" >= 2.4</text>
<line x1="393.9" y1="328.1" x2="410.6" y2="328.1" stroke="#00ff00" stroke-width="1.5"/>
<text x="412.5" y="330.3" font-size="7.5" text-anchor="start" font-family="Liberation Sans, sans-serif" fill="#000" stroke="#000" stroke-width="0.2" >p</text>
<path d="M416.6 334.3 H422.2 M419.4 334.3 V330.1" stroke="#000" stroke-width="0.7" fill="none"/>
<text x="424.3" y="330.5" font-size="7" text-anchor="start" font-family="Liberation Sans, sans-serif" fill="#000" stroke="#000" stroke-width="0.25" >= 1.6</text>
<line x1="393.9" y1="339.2" x2="410.6" y2="339.2" stroke="#000000" stroke-width="1.5"/>
<text x="412.5" y="341.4" font-size="7.5" text-anchor="start" font-family="Liberation Sans, sans-serif" fill="#000" stroke="#000" stroke-width="0.2" >p</text>
<path d="M416.6 345.4 H422.2 M419.4 345.4 V341.2" stroke="#000" stroke-width="0.7" fill="none"/>
<text x="424.3" y="341.6" font-size="7" text-anchor="start" font-family="Liberation Sans, sans-serif" fill="#000" stroke="#000" stroke-width="0.25" >= 0.8</text>
<text x="124.2" y="612.6" font-size="14.5" text-anchor="start" font-family="Liberation Sans, sans-serif" fill="#000" stroke="#000" stroke-width="0.15" >p</text>
<path d="M133.1 611.7V619.8M135.5 611.7V619.8" stroke="#000" stroke-width="0.7" fill="none"/>
<text x="140" y="612.6" font-size="14.5" text-anchor="start" font-family="Liberation Sans, sans-serif" fill="#000" stroke="#000" stroke-width="0.15" >/[U</text>
<text x="157.8" y="616.1" font-size="14" text-anchor="start" font-family="Liberation Sans, sans-serif" fill="#000" stroke="#000" stroke-width="0.15" >p</text>
<text x="165.6" y="612.6" font-size="14.5" text-anchor="start" font-family="Liberation Sans, sans-serif" fill="#000" stroke="#000" stroke-width="0.15" >]</text>
<text transform="translate(170.6 605.8) scale(0.94 1.22)" font-size="7.5" font-weight="bold" font-family="Liberation Sans, sans-serif" fill="#000">1/2</text>
<text x="268.3" y="613" font-size="14.5" text-anchor="start" font-family="Liberation Sans, sans-serif" fill="#000" stroke="#000" stroke-width="0.15" >p</text>
<path d="M277.2 612.1V620.2M279.6 612.1V620.2" stroke="#000" stroke-width="0.7" fill="none"/>
<text x="284.1" y="613" font-size="14.5" text-anchor="start" font-family="Liberation Sans, sans-serif" fill="#000" stroke="#000" stroke-width="0.15" >/[U</text>
<text x="301.9" y="616.5" font-size="14" text-anchor="start" font-family="Liberation Sans, sans-serif" fill="#000" stroke="#000" stroke-width="0.15" >p</text>
<text x="309.7" y="613" font-size="14.5" text-anchor="start" font-family="Liberation Sans, sans-serif" fill="#000" stroke="#000" stroke-width="0.15" >]</text>
<text transform="translate(314.7 606.2) scale(0.94 1.22)" font-size="7.5" font-weight="bold" font-family="Liberation Sans, sans-serif" fill="#000">1/2</text>
<text x="421.9" y="612.6" font-size="14.5" text-anchor="start" font-family="Liberation Sans, sans-serif" fill="#000" stroke="#000" stroke-width="0.15" >p</text>
<path d="M430.8 611.7V619.8M433.2 611.7V619.8" stroke="#000" stroke-width="0.7" fill="none"/>
<text x="437.7" y="612.6" font-size="14.5" text-anchor="start" font-family="Liberation Sans, sans-serif" fill="#000" stroke="#000" stroke-width="0.15" >/[U</text>
<text x="455.5" y="616.1" font-size="14" text-anchor="start" font-family="Liberation Sans, sans-serif" fill="#000" stroke="#000" stroke-width="0.15" >p</text>
<text x="463.3" y="612.6" font-size="14.5" text-anchor="start" font-family="Liberation Sans, sans-serif" fill="#000" stroke="#000" stroke-width="0.15" >]</text>
<text transform="translate(468.3 605.8) scale(0.94 1.22)" font-size="7.5" font-weight="bold" font-family="Liberation Sans, sans-serif" fill="#000">1/2</text>
<text transform="translate(42.1 384.5) rotate(-90)" font-size="14.5" font-family="Liberation Sans, sans-serif" fill="#000" xml:space="preserve">Re [ <tspan font-size="14.5" font-family="Liberation Serif, serif">ω</tspan> t' ]</text>
<text transform="translate(47.1 532.2) rotate(-90)" font-size="14.5" font-family="Liberation Sans, sans-serif" fill="#000" xml:space="preserve">Im [ <tspan font-size="14.5" font-family="Liberation Serif, serif">ω</tspan> t' ]</text>
</svg>
</body></html>
